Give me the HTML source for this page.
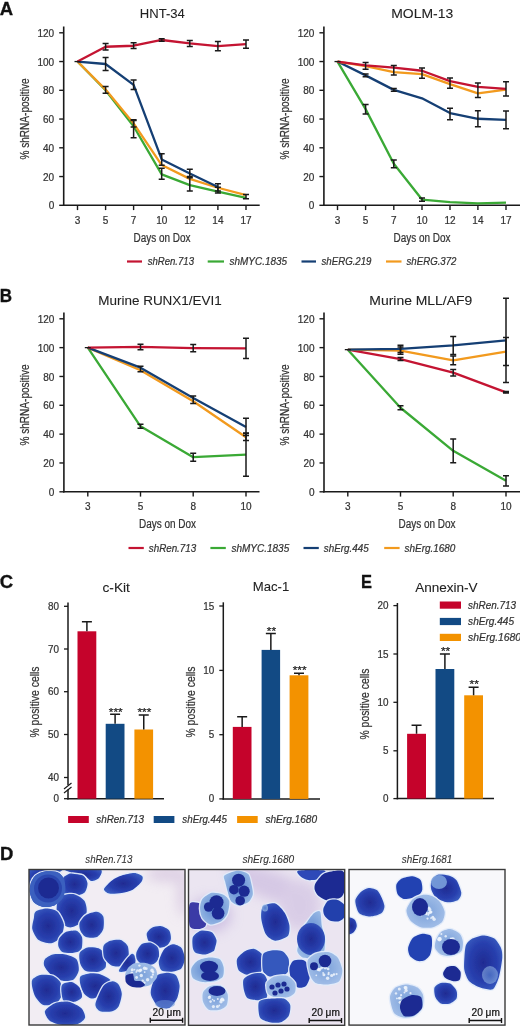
<!DOCTYPE html>
<html><head><meta charset="utf-8"><style>html,body{margin:0;padding:0;background:#fff;width:520px;height:1027px;overflow:hidden}svg{display:block;filter:blur(0.35px)}</style></head>
<body><svg width="520" height="1027" viewBox="0 0 520 1027" font-family="Liberation Sans, sans-serif">
<rect width="520" height="1027" fill="#fff"/>
<text x="-0.3" y="15.4" font-size="18.5" text-anchor="start" fill="#111" font-weight="bold" font-style="normal" stroke="#111" stroke-width="0.3" >A</text>
<line x1="63.7" y1="26.5" x2="63.7" y2="206.0" stroke="#1a1a1a" stroke-width="1.6"/>
<line x1="62.900000000000006" y1="205.3" x2="259.7" y2="205.3" stroke="#1a1a1a" stroke-width="1.6"/>
<line x1="59.2" y1="205.3" x2="63.7" y2="205.3" stroke="#1a1a1a" stroke-width="1.4"/>
<text x="54.2" y="209.4" font-size="10" text-anchor="end" fill="#333333" font-weight="normal" font-style="normal" stroke="#333333" stroke-width="0.22" >0</text>
<line x1="59.2" y1="176.55" x2="63.7" y2="176.55" stroke="#1a1a1a" stroke-width="1.4"/>
<text x="54.2" y="180.65" font-size="10" text-anchor="end" fill="#333333" font-weight="normal" font-style="normal" stroke="#333333" stroke-width="0.22" >20</text>
<line x1="59.2" y1="147.8" x2="63.7" y2="147.8" stroke="#1a1a1a" stroke-width="1.4"/>
<text x="54.2" y="151.9" font-size="10" text-anchor="end" fill="#333333" font-weight="normal" font-style="normal" stroke="#333333" stroke-width="0.22" >40</text>
<line x1="59.2" y1="119.05000000000001" x2="63.7" y2="119.05000000000001" stroke="#1a1a1a" stroke-width="1.4"/>
<text x="54.2" y="123.15" font-size="10" text-anchor="end" fill="#333333" font-weight="normal" font-style="normal" stroke="#333333" stroke-width="0.22" >60</text>
<line x1="59.2" y1="90.30000000000001" x2="63.7" y2="90.30000000000001" stroke="#1a1a1a" stroke-width="1.4"/>
<text x="54.2" y="94.4" font-size="10" text-anchor="end" fill="#333333" font-weight="normal" font-style="normal" stroke="#333333" stroke-width="0.22" >80</text>
<line x1="59.2" y1="61.55000000000001" x2="63.7" y2="61.55000000000001" stroke="#1a1a1a" stroke-width="1.4"/>
<text x="54.2" y="65.65" font-size="10" text-anchor="end" fill="#333333" font-weight="normal" font-style="normal" stroke="#333333" stroke-width="0.22" >100</text>
<line x1="59.2" y1="32.80000000000001" x2="63.7" y2="32.80000000000001" stroke="#1a1a1a" stroke-width="1.4"/>
<text x="54.2" y="36.90000000000001" font-size="10" text-anchor="end" fill="#333333" font-weight="normal" font-style="normal" stroke="#333333" stroke-width="0.22" >120</text>
<line x1="77.5" y1="205.3" x2="77.5" y2="210.10000000000002" stroke="#1a1a1a" stroke-width="1.4"/>
<text x="77.5" y="223.8" font-size="10" text-anchor="middle" fill="#333333" font-weight="normal" font-style="normal" stroke="#333333" stroke-width="0.22" >3</text>
<line x1="105.6" y1="205.3" x2="105.6" y2="210.10000000000002" stroke="#1a1a1a" stroke-width="1.4"/>
<text x="105.6" y="223.8" font-size="10" text-anchor="middle" fill="#333333" font-weight="normal" font-style="normal" stroke="#333333" stroke-width="0.22" >5</text>
<line x1="133.6" y1="205.3" x2="133.6" y2="210.10000000000002" stroke="#1a1a1a" stroke-width="1.4"/>
<text x="133.6" y="223.8" font-size="10" text-anchor="middle" fill="#333333" font-weight="normal" font-style="normal" stroke="#333333" stroke-width="0.22" >7</text>
<line x1="161.7" y1="205.3" x2="161.7" y2="210.10000000000002" stroke="#1a1a1a" stroke-width="1.4"/>
<text x="161.7" y="223.8" font-size="10" text-anchor="middle" fill="#333333" font-weight="normal" font-style="normal" stroke="#333333" stroke-width="0.22" >10</text>
<line x1="189.8" y1="205.3" x2="189.8" y2="210.10000000000002" stroke="#1a1a1a" stroke-width="1.4"/>
<text x="189.8" y="223.8" font-size="10" text-anchor="middle" fill="#333333" font-weight="normal" font-style="normal" stroke="#333333" stroke-width="0.22" >12</text>
<line x1="217.9" y1="205.3" x2="217.9" y2="210.10000000000002" stroke="#1a1a1a" stroke-width="1.4"/>
<text x="217.9" y="223.8" font-size="10" text-anchor="middle" fill="#333333" font-weight="normal" font-style="normal" stroke="#333333" stroke-width="0.22" >14</text>
<line x1="246" y1="205.3" x2="246" y2="210.10000000000002" stroke="#1a1a1a" stroke-width="1.4"/>
<text x="246" y="223.8" font-size="10" text-anchor="middle" fill="#333333" font-weight="normal" font-style="normal" stroke="#333333" stroke-width="0.22" >17</text>
<polyline points="77.5,61.55 105.6,90.30 133.6,126.24 161.7,174.39 189.8,185.18 217.9,191.64 246,197.83" fill="none" stroke="#3aa935" stroke-width="2.3" stroke-linejoin="round"/>
<polyline points="77.5,61.55 105.6,89.58 133.6,123.36 161.7,165.05 189.8,178.85 217.9,187.76 246,195.09" fill="none" stroke="#f29a1e" stroke-width="2.3" stroke-linejoin="round"/>
<polyline points="77.5,61.55 105.6,63.99 133.6,84.84 161.7,159.44 189.8,173.53 217.9,187.04" fill="none" stroke="#153f74" stroke-width="2.3" stroke-linejoin="round"/>
<polyline points="77.5,61.55 105.6,46.74 133.6,45.74 161.7,39.99 189.8,43.44 217.9,46.17 246,44.16" fill="none" stroke="#c41432" stroke-width="2.3" stroke-linejoin="round"/>
<path d="M74.5,61.55h6" stroke="#1a1a1a" stroke-width="1.3"/>
<path d="M105.6,43.44V50.05M102.6,43.44h6M102.6,50.05h6" stroke="#1a1a1a" stroke-width="1.5" fill="none"/>
<path d="M133.6,42.86V48.61M130.6,42.86h6M130.6,48.61h6" stroke="#1a1a1a" stroke-width="1.5" fill="none"/>
<path d="M161.7,38.69V41.28M158.7,38.69h6M158.7,41.28h6" stroke="#1a1a1a" stroke-width="1.5" fill="none"/>
<path d="M189.8,40.42V46.46M186.8,40.42h6M186.8,46.46h6" stroke="#1a1a1a" stroke-width="1.5" fill="none"/>
<path d="M217.9,41.57V50.77M214.9,41.57h6M214.9,50.77h6" stroke="#1a1a1a" stroke-width="1.5" fill="none"/>
<path d="M246,39.99V48.33M243,39.99h6M243,48.33h6" stroke="#1a1a1a" stroke-width="1.5" fill="none"/>
<path d="M105.6,57.38V70.61M102.6,57.38h6M102.6,70.61h6" stroke="#1a1a1a" stroke-width="1.5" fill="none"/>
<path d="M133.6,80.09V89.58M130.6,80.09h6M130.6,89.58h6" stroke="#1a1a1a" stroke-width="1.5" fill="none"/>
<path d="M105.6,86.56V93.18M102.6,86.56h6M102.6,93.18h6" stroke="#1a1a1a" stroke-width="1.5" fill="none"/>
<path d="M133.6,119.63V127.10M130.6,119.63h6M130.6,127.10h6" stroke="#1a1a1a" stroke-width="1.5" fill="none"/>
<path d="M133.6,120.49V137.74M130.6,120.49h6M130.6,137.74h6" stroke="#1a1a1a" stroke-width="1.5" fill="none"/>
<path d="M161.7,153.69V165.19M158.7,153.69h6M158.7,165.19h6" stroke="#1a1a1a" stroke-width="1.5" fill="none"/>
<path d="M161.7,168.21V179.14M158.7,168.21h6M158.7,179.14h6" stroke="#1a1a1a" stroke-width="1.5" fill="none"/>
<path d="M189.8,169.22V177.84M186.8,169.22h6M186.8,177.84h6" stroke="#1a1a1a" stroke-width="1.5" fill="none"/>
<path d="M189.8,176.55V190.93M186.8,176.55h6M186.8,190.93h6" stroke="#1a1a1a" stroke-width="1.5" fill="none"/>
<path d="M217.9,183.74V190.93M214.9,183.74h6M214.9,190.93h6" stroke="#1a1a1a" stroke-width="1.5" fill="none"/>
<path d="M217.9,187.33V193.08M214.9,187.33h6M214.9,193.08h6" stroke="#1a1a1a" stroke-width="1.5" fill="none"/>
<path d="M246,194.52V198.83M243,194.52h6M243,198.83h6" stroke="#1a1a1a" stroke-width="1.5" fill="none"/>
<text x="162.3" y="18.2" font-size="13" text-anchor="middle" fill="#222" font-weight="normal" font-style="normal" textLength="45" lengthAdjust="spacingAndGlyphs" stroke="#222" stroke-width="0.08" >HNT-34</text>
<text transform="translate(29,119) rotate(-90)" x="0" y="0" font-size="13" text-anchor="middle" fill="#333333" textLength="81" lengthAdjust="spacingAndGlyphs" stroke="#333" stroke-width="0.22">% shRNA-positive</text>
<text x="162" y="242" font-size="12" text-anchor="middle" fill="#333333" font-weight="normal" font-style="normal" textLength="57" lengthAdjust="spacingAndGlyphs" stroke="#333333" stroke-width="0.22" >Days on Dox</text>
<line x1="323.9" y1="26.5" x2="323.9" y2="206.0" stroke="#1a1a1a" stroke-width="1.6"/>
<line x1="323.09999999999997" y1="205.3" x2="520" y2="205.3" stroke="#1a1a1a" stroke-width="1.6"/>
<line x1="319.4" y1="205.3" x2="323.9" y2="205.3" stroke="#1a1a1a" stroke-width="1.4"/>
<text x="314.4" y="209.4" font-size="10" text-anchor="end" fill="#333333" font-weight="normal" font-style="normal" stroke="#333333" stroke-width="0.22" >0</text>
<line x1="319.4" y1="176.55" x2="323.9" y2="176.55" stroke="#1a1a1a" stroke-width="1.4"/>
<text x="314.4" y="180.65" font-size="10" text-anchor="end" fill="#333333" font-weight="normal" font-style="normal" stroke="#333333" stroke-width="0.22" >20</text>
<line x1="319.4" y1="147.8" x2="323.9" y2="147.8" stroke="#1a1a1a" stroke-width="1.4"/>
<text x="314.4" y="151.9" font-size="10" text-anchor="end" fill="#333333" font-weight="normal" font-style="normal" stroke="#333333" stroke-width="0.22" >40</text>
<line x1="319.4" y1="119.05000000000001" x2="323.9" y2="119.05000000000001" stroke="#1a1a1a" stroke-width="1.4"/>
<text x="314.4" y="123.15" font-size="10" text-anchor="end" fill="#333333" font-weight="normal" font-style="normal" stroke="#333333" stroke-width="0.22" >60</text>
<line x1="319.4" y1="90.30000000000001" x2="323.9" y2="90.30000000000001" stroke="#1a1a1a" stroke-width="1.4"/>
<text x="314.4" y="94.4" font-size="10" text-anchor="end" fill="#333333" font-weight="normal" font-style="normal" stroke="#333333" stroke-width="0.22" >80</text>
<line x1="319.4" y1="61.55000000000001" x2="323.9" y2="61.55000000000001" stroke="#1a1a1a" stroke-width="1.4"/>
<text x="314.4" y="65.65" font-size="10" text-anchor="end" fill="#333333" font-weight="normal" font-style="normal" stroke="#333333" stroke-width="0.22" >100</text>
<line x1="319.4" y1="32.80000000000001" x2="323.9" y2="32.80000000000001" stroke="#1a1a1a" stroke-width="1.4"/>
<text x="314.4" y="36.90000000000001" font-size="10" text-anchor="end" fill="#333333" font-weight="normal" font-style="normal" stroke="#333333" stroke-width="0.22" >120</text>
<line x1="337.5" y1="205.3" x2="337.5" y2="210.10000000000002" stroke="#1a1a1a" stroke-width="1.4"/>
<text x="337.5" y="223.8" font-size="10" text-anchor="middle" fill="#333333" font-weight="normal" font-style="normal" stroke="#333333" stroke-width="0.22" >3</text>
<line x1="365.6" y1="205.3" x2="365.6" y2="210.10000000000002" stroke="#1a1a1a" stroke-width="1.4"/>
<text x="365.6" y="223.8" font-size="10" text-anchor="middle" fill="#333333" font-weight="normal" font-style="normal" stroke="#333333" stroke-width="0.22" >5</text>
<line x1="393.8" y1="205.3" x2="393.8" y2="210.10000000000002" stroke="#1a1a1a" stroke-width="1.4"/>
<text x="393.8" y="223.8" font-size="10" text-anchor="middle" fill="#333333" font-weight="normal" font-style="normal" stroke="#333333" stroke-width="0.22" >7</text>
<line x1="422" y1="205.3" x2="422" y2="210.10000000000002" stroke="#1a1a1a" stroke-width="1.4"/>
<text x="422" y="223.8" font-size="10" text-anchor="middle" fill="#333333" font-weight="normal" font-style="normal" stroke="#333333" stroke-width="0.22" >10</text>
<line x1="450" y1="205.3" x2="450" y2="210.10000000000002" stroke="#1a1a1a" stroke-width="1.4"/>
<text x="450" y="223.8" font-size="10" text-anchor="middle" fill="#333333" font-weight="normal" font-style="normal" stroke="#333333" stroke-width="0.22" >12</text>
<line x1="477.9" y1="205.3" x2="477.9" y2="210.10000000000002" stroke="#1a1a1a" stroke-width="1.4"/>
<text x="477.9" y="223.8" font-size="10" text-anchor="middle" fill="#333333" font-weight="normal" font-style="normal" stroke="#333333" stroke-width="0.22" >14</text>
<line x1="506" y1="205.3" x2="506" y2="210.10000000000002" stroke="#1a1a1a" stroke-width="1.4"/>
<text x="506" y="223.8" font-size="10" text-anchor="middle" fill="#333333" font-weight="normal" font-style="normal" stroke="#333333" stroke-width="0.22" >17</text>
<polyline points="337.5,61.55 365.6,109.13 393.8,163.76 422,199.55 450,202.14 477.9,203.29 506,202.57" fill="none" stroke="#3aa935" stroke-width="2.3" stroke-linejoin="round"/>
<polyline points="337.5,61.55 365.6,75.35 393.8,89.87 422,98.35 450,113.01 477.9,118.76 506,119.91" fill="none" stroke="#153f74" stroke-width="2.3" stroke-linejoin="round"/>
<polyline points="337.5,61.55 365.6,66.15 393.8,72.19 422,74.06 450,84.12 477.9,93.32 506,89.58" fill="none" stroke="#f29a1e" stroke-width="2.3" stroke-linejoin="round"/>
<polyline points="337.5,61.55 365.6,65.43 393.8,67.59 422,70.75 450,81.10 477.9,86.85 506,88.86" fill="none" stroke="#c41432" stroke-width="2.3" stroke-linejoin="round"/>
<path d="M334.5,61.55h6" stroke="#1a1a1a" stroke-width="1.3"/>
<path d="M365.6,62.41V69.31M362.6,62.41h6M362.6,69.31h6" stroke="#1a1a1a" stroke-width="1.5" fill="none"/>
<path d="M393.8,65.43V74.92M390.8,65.43h6M390.8,74.92h6" stroke="#1a1a1a" stroke-width="1.5" fill="none"/>
<path d="M422,67.88V78.23M419,67.88h6M419,78.23h6" stroke="#1a1a1a" stroke-width="1.5" fill="none"/>
<path d="M450,78.08V88.14M447,78.08h6M447,88.14h6" stroke="#1a1a1a" stroke-width="1.5" fill="none"/>
<path d="M477.9,83.11V97.49M474.9,83.11h6M474.9,97.49h6" stroke="#1a1a1a" stroke-width="1.5" fill="none"/>
<path d="M506,81.68V96.05M503,81.68h6M503,96.05h6" stroke="#1a1a1a" stroke-width="1.5" fill="none"/>
<path d="M365.6,73.91V76.79M362.6,73.91h6M362.6,76.79h6" stroke="#1a1a1a" stroke-width="1.5" fill="none"/>
<path d="M393.8,88.43V91.31M390.8,88.43h6M390.8,91.31h6" stroke="#1a1a1a" stroke-width="1.5" fill="none"/>
<path d="M450,108.27V119.77M447,108.27h6M447,119.77h6" stroke="#1a1a1a" stroke-width="1.5" fill="none"/>
<path d="M477.9,110.71V126.81M474.9,110.71h6M474.9,126.81h6" stroke="#1a1a1a" stroke-width="1.5" fill="none"/>
<path d="M506,111.00V128.83M503,111.00h6M503,128.83h6" stroke="#1a1a1a" stroke-width="1.5" fill="none"/>
<path d="M365.6,104.39V113.88M362.6,104.39h6M362.6,113.88h6" stroke="#1a1a1a" stroke-width="1.5" fill="none"/>
<path d="M393.8,159.88V167.64M390.8,159.88h6M390.8,167.64h6" stroke="#1a1a1a" stroke-width="1.5" fill="none"/>
<path d="M422,197.97V201.13M419,197.97h6M419,201.13h6" stroke="#1a1a1a" stroke-width="1.5" fill="none"/>
<text x="422.2" y="18.4" font-size="13" text-anchor="middle" fill="#222" font-weight="normal" font-style="normal" textLength="62" lengthAdjust="spacingAndGlyphs" stroke="#222" stroke-width="0.08" >MOLM-13</text>
<text transform="translate(289,119) rotate(-90)" x="0" y="0" font-size="13" text-anchor="middle" fill="#333333" textLength="81" lengthAdjust="spacingAndGlyphs" stroke="#333" stroke-width="0.22">% shRNA-positive</text>
<text x="422" y="242" font-size="12" text-anchor="middle" fill="#333333" font-weight="normal" font-style="normal" textLength="57" lengthAdjust="spacingAndGlyphs" stroke="#333333" stroke-width="0.22" >Days on Dox</text>
<line x1="127" y1="261.5" x2="142" y2="261.5" stroke="#c41432" stroke-width="2.2"/>
<text x="147.7" y="265.3" font-size="10.5" text-anchor="start" fill="#333" font-weight="normal" font-style="italic" textLength="46.30000000000001" lengthAdjust="spacingAndGlyphs" stroke="#333" stroke-width="0.22" >shRen.713</text>
<line x1="207.7" y1="261.5" x2="224" y2="261.5" stroke="#3aa935" stroke-width="2.2"/>
<text x="229.6" y="265.3" font-size="10.5" text-anchor="start" fill="#333" font-weight="normal" font-style="italic" textLength="57.400000000000006" lengthAdjust="spacingAndGlyphs" stroke="#333" stroke-width="0.22" >shMYC.1835</text>
<line x1="301.5" y1="261.5" x2="316" y2="261.5" stroke="#153f74" stroke-width="2.2"/>
<text x="321.5" y="265.3" font-size="10.5" text-anchor="start" fill="#333" font-weight="normal" font-style="italic" textLength="50.0" lengthAdjust="spacingAndGlyphs" stroke="#333" stroke-width="0.22" >shERG.219</text>
<line x1="386" y1="261.5" x2="401.5" y2="261.5" stroke="#f29a1e" stroke-width="2.2"/>
<text x="406.5" y="265.3" font-size="10.5" text-anchor="start" fill="#333" font-weight="normal" font-style="italic" textLength="50.0" lengthAdjust="spacingAndGlyphs" stroke="#333" stroke-width="0.22" >shERG.372</text>
<text x="-0.3" y="301.5" font-size="18.5" text-anchor="start" fill="#111" font-weight="bold" font-style="normal" textLength="12.3" lengthAdjust="spacingAndGlyphs" stroke="#111" stroke-width="0.3" >B</text>
<line x1="63.9" y1="312.5" x2="63.9" y2="492.5" stroke="#1a1a1a" stroke-width="1.6"/>
<line x1="63.1" y1="491.8" x2="259.5" y2="491.8" stroke="#1a1a1a" stroke-width="1.6"/>
<line x1="59.4" y1="491.8" x2="63.9" y2="491.8" stroke="#1a1a1a" stroke-width="1.4"/>
<text x="54.4" y="495.90000000000003" font-size="10" text-anchor="end" fill="#333333" font-weight="normal" font-style="normal" stroke="#333333" stroke-width="0.22" >0</text>
<line x1="59.4" y1="462.966" x2="63.9" y2="462.966" stroke="#1a1a1a" stroke-width="1.4"/>
<text x="54.4" y="467.06600000000003" font-size="10" text-anchor="end" fill="#333333" font-weight="normal" font-style="normal" stroke="#333333" stroke-width="0.22" >20</text>
<line x1="59.4" y1="434.132" x2="63.9" y2="434.132" stroke="#1a1a1a" stroke-width="1.4"/>
<text x="54.4" y="438.232" font-size="10" text-anchor="end" fill="#333333" font-weight="normal" font-style="normal" stroke="#333333" stroke-width="0.22" >40</text>
<line x1="59.4" y1="405.298" x2="63.9" y2="405.298" stroke="#1a1a1a" stroke-width="1.4"/>
<text x="54.4" y="409.398" font-size="10" text-anchor="end" fill="#333333" font-weight="normal" font-style="normal" stroke="#333333" stroke-width="0.22" >60</text>
<line x1="59.4" y1="376.464" x2="63.9" y2="376.464" stroke="#1a1a1a" stroke-width="1.4"/>
<text x="54.4" y="380.564" font-size="10" text-anchor="end" fill="#333333" font-weight="normal" font-style="normal" stroke="#333333" stroke-width="0.22" >80</text>
<line x1="59.4" y1="347.63" x2="63.9" y2="347.63" stroke="#1a1a1a" stroke-width="1.4"/>
<text x="54.4" y="351.73" font-size="10" text-anchor="end" fill="#333333" font-weight="normal" font-style="normal" stroke="#333333" stroke-width="0.22" >100</text>
<line x1="59.4" y1="318.79600000000005" x2="63.9" y2="318.79600000000005" stroke="#1a1a1a" stroke-width="1.4"/>
<text x="54.4" y="322.8960000000001" font-size="10" text-anchor="end" fill="#333333" font-weight="normal" font-style="normal" stroke="#333333" stroke-width="0.22" >120</text>
<line x1="87.8" y1="491.8" x2="87.8" y2="496.6" stroke="#1a1a1a" stroke-width="1.4"/>
<text x="87.8" y="510.3" font-size="10" text-anchor="middle" fill="#333333" font-weight="normal" font-style="normal" stroke="#333333" stroke-width="0.22" >3</text>
<line x1="140.5" y1="491.8" x2="140.5" y2="496.6" stroke="#1a1a1a" stroke-width="1.4"/>
<text x="140.5" y="510.3" font-size="10" text-anchor="middle" fill="#333333" font-weight="normal" font-style="normal" stroke="#333333" stroke-width="0.22" >5</text>
<line x1="193.2" y1="491.8" x2="193.2" y2="496.6" stroke="#1a1a1a" stroke-width="1.4"/>
<text x="193.2" y="510.3" font-size="10" text-anchor="middle" fill="#333333" font-weight="normal" font-style="normal" stroke="#333333" stroke-width="0.22" >8</text>
<line x1="246" y1="491.8" x2="246" y2="496.6" stroke="#1a1a1a" stroke-width="1.4"/>
<text x="246" y="510.3" font-size="10" text-anchor="middle" fill="#333333" font-weight="normal" font-style="normal" stroke="#333333" stroke-width="0.22" >10</text>
<polyline points="87.8,347.63 140.5,426.35 193.2,457.20 246,454.60" fill="none" stroke="#3aa935" stroke-width="2.3" stroke-linejoin="round"/>
<polyline points="87.8,347.63 140.5,370.26 193.2,401.26 246,437.30" fill="none" stroke="#f29a1e" stroke-width="2.3" stroke-linejoin="round"/>
<polyline points="87.8,347.63 140.5,367.67 193.2,398.09 246,426.92" fill="none" stroke="#153f74" stroke-width="2.3" stroke-linejoin="round"/>
<polyline points="87.8,347.63 140.5,346.91 193.2,348.06 246,348.35" fill="none" stroke="#c41432" stroke-width="2.3" stroke-linejoin="round"/>
<path d="M84.8,347.63h6" stroke="#1a1a1a" stroke-width="1.3"/>
<path d="M140.5,344.17V349.65M137.5,344.17h6M137.5,349.65h6" stroke="#1a1a1a" stroke-width="1.5" fill="none"/>
<path d="M193.2,344.46V351.67M190.2,344.46h6M190.2,351.67h6" stroke="#1a1a1a" stroke-width="1.5" fill="none"/>
<path d="M246,338.26V358.44M243,338.26h6M243,358.44h6" stroke="#1a1a1a" stroke-width="1.5" fill="none"/>
<path d="M140.5,366.23V371.71M137.5,366.23h6M137.5,371.71h6" stroke="#1a1a1a" stroke-width="1.5" fill="none"/>
<path d="M193.2,395.93V403.42M190.2,395.93h6M190.2,403.42h6" stroke="#1a1a1a" stroke-width="1.5" fill="none"/>
<path d="M246,418.27V435.57M243,418.27h6M243,435.57h6" stroke="#1a1a1a" stroke-width="1.5" fill="none"/>
<path d="M246,433.41V440.62M243,433.41h6M243,440.62h6" stroke="#1a1a1a" stroke-width="1.5" fill="none"/>
<path d="M140.5,424.33V428.37M137.5,424.33h6M137.5,428.37h6" stroke="#1a1a1a" stroke-width="1.5" fill="none"/>
<path d="M193.2,453.16V461.24M190.2,453.16h6M190.2,461.24h6" stroke="#1a1a1a" stroke-width="1.5" fill="none"/>
<path d="M246,432.98V476.23M243,432.98h6M243,476.23h6" stroke="#1a1a1a" stroke-width="1.5" fill="none"/>
<text x="160" y="305.2" font-size="13" text-anchor="middle" fill="#222" font-weight="normal" font-style="normal" textLength="123.5" lengthAdjust="spacingAndGlyphs" stroke="#222" stroke-width="0.08" >Murine RUNX1/EVI1</text>
<text transform="translate(29,405) rotate(-90)" x="0" y="0" font-size="13" text-anchor="middle" fill="#333333" textLength="81" lengthAdjust="spacingAndGlyphs" stroke="#333" stroke-width="0.22">% shRNA-positive</text>
<text x="167.5" y="528.2" font-size="12" text-anchor="middle" fill="#333333" font-weight="normal" font-style="normal" textLength="57" lengthAdjust="spacingAndGlyphs" stroke="#333333" stroke-width="0.22" >Days on Dox</text>
<line x1="324" y1="312.5" x2="324" y2="492.5" stroke="#1a1a1a" stroke-width="1.6"/>
<line x1="323.2" y1="491.8" x2="520" y2="491.8" stroke="#1a1a1a" stroke-width="1.6"/>
<line x1="319.5" y1="491.8" x2="324" y2="491.8" stroke="#1a1a1a" stroke-width="1.4"/>
<text x="314.5" y="495.90000000000003" font-size="10" text-anchor="end" fill="#333333" font-weight="normal" font-style="normal" stroke="#333333" stroke-width="0.22" >0</text>
<line x1="319.5" y1="462.966" x2="324" y2="462.966" stroke="#1a1a1a" stroke-width="1.4"/>
<text x="314.5" y="467.06600000000003" font-size="10" text-anchor="end" fill="#333333" font-weight="normal" font-style="normal" stroke="#333333" stroke-width="0.22" >20</text>
<line x1="319.5" y1="434.132" x2="324" y2="434.132" stroke="#1a1a1a" stroke-width="1.4"/>
<text x="314.5" y="438.232" font-size="10" text-anchor="end" fill="#333333" font-weight="normal" font-style="normal" stroke="#333333" stroke-width="0.22" >40</text>
<line x1="319.5" y1="405.298" x2="324" y2="405.298" stroke="#1a1a1a" stroke-width="1.4"/>
<text x="314.5" y="409.398" font-size="10" text-anchor="end" fill="#333333" font-weight="normal" font-style="normal" stroke="#333333" stroke-width="0.22" >60</text>
<line x1="319.5" y1="376.464" x2="324" y2="376.464" stroke="#1a1a1a" stroke-width="1.4"/>
<text x="314.5" y="380.564" font-size="10" text-anchor="end" fill="#333333" font-weight="normal" font-style="normal" stroke="#333333" stroke-width="0.22" >80</text>
<line x1="319.5" y1="347.63" x2="324" y2="347.63" stroke="#1a1a1a" stroke-width="1.4"/>
<text x="314.5" y="351.73" font-size="10" text-anchor="end" fill="#333333" font-weight="normal" font-style="normal" stroke="#333333" stroke-width="0.22" >100</text>
<line x1="319.5" y1="318.79600000000005" x2="324" y2="318.79600000000005" stroke="#1a1a1a" stroke-width="1.4"/>
<text x="314.5" y="322.8960000000001" font-size="10" text-anchor="end" fill="#333333" font-weight="normal" font-style="normal" stroke="#333333" stroke-width="0.22" >120</text>
<line x1="347.8" y1="491.8" x2="347.8" y2="496.6" stroke="#1a1a1a" stroke-width="1.4"/>
<text x="347.8" y="510.3" font-size="10" text-anchor="middle" fill="#333333" font-weight="normal" font-style="normal" stroke="#333333" stroke-width="0.22" >3</text>
<line x1="400.5" y1="491.8" x2="400.5" y2="496.6" stroke="#1a1a1a" stroke-width="1.4"/>
<text x="400.5" y="510.3" font-size="10" text-anchor="middle" fill="#333333" font-weight="normal" font-style="normal" stroke="#333333" stroke-width="0.22" >5</text>
<line x1="453.2" y1="491.8" x2="453.2" y2="496.6" stroke="#1a1a1a" stroke-width="1.4"/>
<text x="453.2" y="510.3" font-size="10" text-anchor="middle" fill="#333333" font-weight="normal" font-style="normal" stroke="#333333" stroke-width="0.22" >8</text>
<line x1="506" y1="491.8" x2="506" y2="496.6" stroke="#1a1a1a" stroke-width="1.4"/>
<text x="506" y="510.3" font-size="10" text-anchor="middle" fill="#333333" font-weight="normal" font-style="normal" stroke="#333333" stroke-width="0.22" >10</text>
<polyline points="347.8,349.65 400.5,407.75 453.2,450.86 506,480.84" fill="none" stroke="#3aa935" stroke-width="2.3" stroke-linejoin="round"/>
<polyline points="347.8,349.65 400.5,359.02 453.2,372.57 506,392.32" fill="none" stroke="#c41432" stroke-width="2.3" stroke-linejoin="round"/>
<polyline points="347.8,349.65 400.5,350.66 453.2,360.32 506,351.52" fill="none" stroke="#f29a1e" stroke-width="2.3" stroke-linejoin="round"/>
<polyline points="347.8,349.65 400.5,348.93 453.2,345.47 506,340.42" fill="none" stroke="#153f74" stroke-width="2.3" stroke-linejoin="round"/>
<path d="M344.8,349.65h6" stroke="#1a1a1a" stroke-width="1.3"/>
<path d="M400.5,345.32V352.53M397.5,345.32h6M397.5,352.53h6" stroke="#1a1a1a" stroke-width="1.5" fill="none"/>
<path d="M400.5,347.05V354.26M397.5,347.05h6M397.5,354.26h6" stroke="#1a1a1a" stroke-width="1.5" fill="none"/>
<path d="M400.5,357.58V360.46M397.5,357.58h6M397.5,360.46h6" stroke="#1a1a1a" stroke-width="1.5" fill="none"/>
<path d="M453.2,336.38V354.55M450.2,336.38h6M450.2,354.55h6" stroke="#1a1a1a" stroke-width="1.5" fill="none"/>
<path d="M453.2,355.99V364.64M450.2,355.99h6M450.2,364.64h6" stroke="#1a1a1a" stroke-width="1.5" fill="none"/>
<path d="M453.2,369.47V375.96M450.2,369.47h6M450.2,375.96h6" stroke="#1a1a1a" stroke-width="1.5" fill="none"/>
<path d="M506,298.32V382.52M503,298.32h6M503,382.52h6" stroke="#1a1a1a" stroke-width="1.5" fill="none"/>
<path d="M506,337.54V365.51M503,337.54h6M503,365.51h6" stroke="#1a1a1a" stroke-width="1.5" fill="none"/>
<path d="M506,391.60V393.04M503,391.60h6M503,393.04h6" stroke="#1a1a1a" stroke-width="1.5" fill="none"/>
<path d="M400.5,405.73V409.77M397.5,405.73h6M397.5,409.77h6" stroke="#1a1a1a" stroke-width="1.5" fill="none"/>
<path d="M453.2,438.89V462.82M450.2,438.89h6M450.2,462.82h6" stroke="#1a1a1a" stroke-width="1.5" fill="none"/>
<path d="M506,475.80V485.89M503,475.80h6M503,485.89h6" stroke="#1a1a1a" stroke-width="1.5" fill="none"/>
<text x="420.8" y="305" font-size="13" text-anchor="middle" fill="#222" font-weight="normal" font-style="normal" textLength="103" lengthAdjust="spacingAndGlyphs" stroke="#222" stroke-width="0.08" >Murine MLL/AF9</text>
<text transform="translate(289,405) rotate(-90)" x="0" y="0" font-size="13" text-anchor="middle" fill="#333333" textLength="81" lengthAdjust="spacingAndGlyphs" stroke="#333" stroke-width="0.22">% shRNA-positive</text>
<text x="427" y="528.2" font-size="12" text-anchor="middle" fill="#333333" font-weight="normal" font-style="normal" textLength="57" lengthAdjust="spacingAndGlyphs" stroke="#333333" stroke-width="0.22" >Days on Dox</text>
<line x1="128.5" y1="548" x2="143.8" y2="548" stroke="#c41432" stroke-width="2.2"/>
<text x="148.8" y="551.8" font-size="10.5" text-anchor="start" fill="#333" font-weight="normal" font-style="italic" textLength="47.39999999999998" lengthAdjust="spacingAndGlyphs" stroke="#333" stroke-width="0.22" >shRen.713</text>
<line x1="210.4" y1="548" x2="225.8" y2="548" stroke="#3aa935" stroke-width="2.2"/>
<text x="231.5" y="551.8" font-size="10.5" text-anchor="start" fill="#333" font-weight="normal" font-style="italic" textLength="57.69999999999999" lengthAdjust="spacingAndGlyphs" stroke="#333" stroke-width="0.22" >shMYC.1835</text>
<line x1="303.5" y1="548" x2="318.8" y2="548" stroke="#153f74" stroke-width="2.2"/>
<text x="323.8" y="551.8" font-size="10.5" text-anchor="start" fill="#333" font-weight="normal" font-style="italic" textLength="45.0" lengthAdjust="spacingAndGlyphs" stroke="#333" stroke-width="0.22" >shErg.445</text>
<line x1="384.2" y1="548" x2="399.6" y2="548" stroke="#f29a1e" stroke-width="2.2"/>
<text x="404.6" y="551.8" font-size="10.5" text-anchor="start" fill="#333" font-weight="normal" font-style="italic" textLength="50.799999999999955" lengthAdjust="spacingAndGlyphs" stroke="#333" stroke-width="0.22" >shErg.1680</text>
<text x="-0.2" y="588.2" font-size="18.5" text-anchor="start" fill="#111" font-weight="bold" font-style="normal" stroke="#111" stroke-width="0.3" >C</text>
<text x="116.2" y="591.5" font-size="13" text-anchor="middle" fill="#222" font-weight="normal" font-style="normal" textLength="27.5" lengthAdjust="spacingAndGlyphs" stroke="#222" stroke-width="0.08" >c-Kit</text>
<line x1="68" y1="602.5" x2="68" y2="785" stroke="#1a1a1a" stroke-width="1.5"/>
<line x1="68" y1="789.5" x2="68" y2="799.4000000000001" stroke="#1a1a1a" stroke-width="1.5"/>
<path d="M64,789l7.5,-6M64,793l7.5,-6" stroke="#1a1a1a" stroke-width="1.2" fill="none"/>
<line x1="67.3" y1="798.7" x2="164" y2="798.7" stroke="#1a1a1a" stroke-width="1.5"/>
<line x1="64" y1="606.3" x2="68" y2="606.3" stroke="#1a1a1a" stroke-width="1.3"/>
<text x="59.0" y="609.8" font-size="10.6" text-anchor="end" fill="#333333" font-weight="normal" font-style="normal" textLength="11.0" lengthAdjust="spacingAndGlyphs" stroke="#333333" stroke-width="0.22" >80</text>
<line x1="64" y1="649" x2="68" y2="649" stroke="#1a1a1a" stroke-width="1.3"/>
<text x="59.0" y="652.5" font-size="10.6" text-anchor="end" fill="#333333" font-weight="normal" font-style="normal" textLength="11.0" lengthAdjust="spacingAndGlyphs" stroke="#333333" stroke-width="0.22" >70</text>
<line x1="64" y1="691.7" x2="68" y2="691.7" stroke="#1a1a1a" stroke-width="1.3"/>
<text x="59.0" y="695.2" font-size="10.6" text-anchor="end" fill="#333333" font-weight="normal" font-style="normal" textLength="11.0" lengthAdjust="spacingAndGlyphs" stroke="#333333" stroke-width="0.22" >60</text>
<line x1="64" y1="734.5" x2="68" y2="734.5" stroke="#1a1a1a" stroke-width="1.3"/>
<text x="59.0" y="738.0" font-size="10.6" text-anchor="end" fill="#333333" font-weight="normal" font-style="normal" textLength="11.0" lengthAdjust="spacingAndGlyphs" stroke="#333333" stroke-width="0.22" >50</text>
<line x1="64" y1="777.5" x2="68" y2="777.5" stroke="#1a1a1a" stroke-width="1.3"/>
<text x="59.0" y="781.0" font-size="10.6" text-anchor="end" fill="#333333" font-weight="normal" font-style="normal" textLength="11.0" lengthAdjust="spacingAndGlyphs" stroke="#333333" stroke-width="0.22" >40</text>
<line x1="64" y1="798.7" x2="68" y2="798.7" stroke="#1a1a1a" stroke-width="1.3"/>
<text x="59.0" y="802.2" font-size="10.6" text-anchor="end" fill="#333333" font-weight="normal" font-style="normal" textLength="5.5" lengthAdjust="spacingAndGlyphs" stroke="#333333" stroke-width="0.22" >0</text>
<text transform="translate(39,702) rotate(-90)" x="0" y="0" font-size="12.5" text-anchor="middle" fill="#333333" textLength="71" lengthAdjust="spacingAndGlyphs" stroke="#333" stroke-width="0.22">% positive cells</text>
<rect x="77.5" y="631.3" width="18.799999999999997" height="167.4000000000001" fill="#c5032b"/>
<path d="M86.9,631.3V621.8M81.9,621.8h10" stroke="#1a1a1a" stroke-width="1.5" fill="none"/>
<rect x="105.7" y="723.8" width="18.799999999999997" height="74.90000000000009" fill="#124a84"/>
<path d="M115.1,723.8V714.3M110.1,714.3h10" stroke="#1a1a1a" stroke-width="1.5" fill="none"/>
<text x="115.69999999999999" y="715.5" font-size="10" text-anchor="middle" fill="#222" font-weight="normal" font-style="normal" textLength="13.799999999999999" lengthAdjust="spacingAndGlyphs" stroke="#222" stroke-width="0.22" >***</text>
<rect x="134.4" y="729.5" width="18.69999999999999" height="69.20000000000005" fill="#f39200"/>
<path d="M143.75,729.5V715M138.75,715h10" stroke="#1a1a1a" stroke-width="1.5" fill="none"/>
<text x="144.35" y="715.5" font-size="10" text-anchor="middle" fill="#222" font-weight="normal" font-style="normal" textLength="13.799999999999999" lengthAdjust="spacingAndGlyphs" stroke="#222" stroke-width="0.22" >***</text>
<text x="271" y="591" font-size="13" text-anchor="middle" fill="#222" font-weight="normal" font-style="normal" textLength="36.5" lengthAdjust="spacingAndGlyphs" stroke="#222" stroke-width="0.08" >Mac-1</text>
<line x1="223.3" y1="602.3" x2="223.3" y2="799.6" stroke="#1a1a1a" stroke-width="1.5"/>
<line x1="222.60000000000002" y1="798.9" x2="320" y2="798.9" stroke="#1a1a1a" stroke-width="1.5"/>
<line x1="219.3" y1="606" x2="223.3" y2="606" stroke="#1a1a1a" stroke-width="1.3"/>
<text x="214.3" y="609.5" font-size="10.6" text-anchor="end" fill="#333333" font-weight="normal" font-style="normal" textLength="11.0" lengthAdjust="spacingAndGlyphs" stroke="#333333" stroke-width="0.22" >15</text>
<line x1="219.3" y1="670.4" x2="223.3" y2="670.4" stroke="#1a1a1a" stroke-width="1.3"/>
<text x="214.3" y="673.9" font-size="10.6" text-anchor="end" fill="#333333" font-weight="normal" font-style="normal" textLength="11.0" lengthAdjust="spacingAndGlyphs" stroke="#333333" stroke-width="0.22" >10</text>
<line x1="219.3" y1="734.7" x2="223.3" y2="734.7" stroke="#1a1a1a" stroke-width="1.3"/>
<text x="214.3" y="738.2" font-size="10.6" text-anchor="end" fill="#333333" font-weight="normal" font-style="normal" textLength="5.5" lengthAdjust="spacingAndGlyphs" stroke="#333333" stroke-width="0.22" >5</text>
<line x1="219.3" y1="798.9" x2="223.3" y2="798.9" stroke="#1a1a1a" stroke-width="1.3"/>
<text x="214.3" y="802.4" font-size="10.6" text-anchor="end" fill="#333333" font-weight="normal" font-style="normal" textLength="5.5" lengthAdjust="spacingAndGlyphs" stroke="#333333" stroke-width="0.22" >0</text>
<text transform="translate(194.5,702) rotate(-90)" x="0" y="0" font-size="12.5" text-anchor="middle" fill="#333333" textLength="71" lengthAdjust="spacingAndGlyphs" stroke="#333" stroke-width="0.22">% positive cells</text>
<rect x="232.8" y="726.9" width="18.69999999999999" height="72.0" fill="#c5032b"/>
<path d="M242.15,726.9V716.8M237.15,716.8h10" stroke="#1a1a1a" stroke-width="1.5" fill="none"/>
<rect x="261.6" y="649.9" width="18.5" height="149.0" fill="#124a84"/>
<path d="M270.85,649.9V633.5M265.85,633.5h10" stroke="#1a1a1a" stroke-width="1.5" fill="none"/>
<text x="271.45000000000005" y="634.5" font-size="10" text-anchor="middle" fill="#222" font-weight="normal" font-style="normal" textLength="9.2" lengthAdjust="spacingAndGlyphs" stroke="#222" stroke-width="0.22" >**</text>
<rect x="289.6" y="675.3" width="18.799999999999955" height="123.60000000000002" fill="#f39200"/>
<path d="M299.0,675.3V673.2M294.0,673.2h10" stroke="#1a1a1a" stroke-width="1.5" fill="none"/>
<text x="299.6" y="673.8" font-size="10" text-anchor="middle" fill="#222" font-weight="normal" font-style="normal" textLength="13.799999999999999" lengthAdjust="spacingAndGlyphs" stroke="#222" stroke-width="0.22" >***</text>
<rect x="68.1" y="816" width="20.700000000000003" height="7" fill="#c5032b"/>
<text x="96.3" y="822.8" font-size="10.5" text-anchor="start" fill="#333" font-weight="normal" font-style="italic" textLength="47.7" lengthAdjust="spacingAndGlyphs" stroke="#333" stroke-width="0.22" >shRen.713</text>
<rect x="153.7" y="816" width="20.700000000000017" height="7" fill="#124a84"/>
<text x="182.3" y="822.8" font-size="10.5" text-anchor="start" fill="#333" font-weight="normal" font-style="italic" textLength="44.599999999999994" lengthAdjust="spacingAndGlyphs" stroke="#333" stroke-width="0.22" >shErg.445</text>
<rect x="237.1" y="816" width="20.599999999999994" height="7" fill="#f39200"/>
<text x="265.4" y="822.8" font-size="10.5" text-anchor="start" fill="#333" font-weight="normal" font-style="italic" textLength="51.700000000000045" lengthAdjust="spacingAndGlyphs" stroke="#333" stroke-width="0.22" >shErg.1680</text>
<text x="361" y="588.1" font-size="18" text-anchor="start" fill="#111" font-weight="bold" font-style="normal" textLength="11" lengthAdjust="spacingAndGlyphs" stroke="#111" stroke-width="0.3" >E</text>
<text x="446.4" y="591.5" font-size="13" text-anchor="middle" fill="#222" font-weight="normal" font-style="normal" textLength="62.5" lengthAdjust="spacingAndGlyphs" stroke="#222" stroke-width="0.08" >Annexin-V</text>
<line x1="397.4" y1="603" x2="397.4" y2="799.3000000000001" stroke="#1a1a1a" stroke-width="1.5"/>
<line x1="396.7" y1="798.6" x2="494" y2="798.6" stroke="#1a1a1a" stroke-width="1.5"/>
<line x1="393.4" y1="605.6" x2="397.4" y2="605.6" stroke="#1a1a1a" stroke-width="1.3"/>
<text x="388.4" y="609.1" font-size="10.6" text-anchor="end" fill="#333333" font-weight="normal" font-style="normal" textLength="11.0" lengthAdjust="spacingAndGlyphs" stroke="#333333" stroke-width="0.22" >20</text>
<line x1="393.4" y1="654" x2="397.4" y2="654" stroke="#1a1a1a" stroke-width="1.3"/>
<text x="388.4" y="657.5" font-size="10.6" text-anchor="end" fill="#333333" font-weight="normal" font-style="normal" textLength="11.0" lengthAdjust="spacingAndGlyphs" stroke="#333333" stroke-width="0.22" >15</text>
<line x1="393.4" y1="702.3" x2="397.4" y2="702.3" stroke="#1a1a1a" stroke-width="1.3"/>
<text x="388.4" y="705.8" font-size="10.6" text-anchor="end" fill="#333333" font-weight="normal" font-style="normal" textLength="11.0" lengthAdjust="spacingAndGlyphs" stroke="#333333" stroke-width="0.22" >10</text>
<line x1="393.4" y1="750.8" x2="397.4" y2="750.8" stroke="#1a1a1a" stroke-width="1.3"/>
<text x="388.4" y="754.3" font-size="10.6" text-anchor="end" fill="#333333" font-weight="normal" font-style="normal" textLength="5.5" lengthAdjust="spacingAndGlyphs" stroke="#333333" stroke-width="0.22" >5</text>
<line x1="393.4" y1="798.6" x2="397.4" y2="798.6" stroke="#1a1a1a" stroke-width="1.3"/>
<text x="388.4" y="802.1" font-size="10.6" text-anchor="end" fill="#333333" font-weight="normal" font-style="normal" textLength="5.5" lengthAdjust="spacingAndGlyphs" stroke="#333333" stroke-width="0.22" >0</text>
<text transform="translate(368.5,704) rotate(-90)" x="0" y="0" font-size="12.5" text-anchor="middle" fill="#333333" textLength="71" lengthAdjust="spacingAndGlyphs" stroke="#333" stroke-width="0.22">% positive cells</text>
<rect x="407.1" y="733.8" width="18.899999999999977" height="64.80000000000007" fill="#c5032b"/>
<path d="M416.55,733.8V725.2M411.55,725.2h10" stroke="#1a1a1a" stroke-width="1.5" fill="none"/>
<rect x="435.5" y="669" width="18.80000000000001" height="129.60000000000002" fill="#124a84"/>
<path d="M444.9,669V654M439.9,654h10" stroke="#1a1a1a" stroke-width="1.5" fill="none"/>
<text x="445.5" y="655" font-size="10" text-anchor="middle" fill="#222" font-weight="normal" font-style="normal" textLength="9.2" lengthAdjust="spacingAndGlyphs" stroke="#222" stroke-width="0.22" >**</text>
<rect x="464.2" y="695.3" width="18.80000000000001" height="103.30000000000007" fill="#f39200"/>
<path d="M473.6,695.3V687.3M468.6,687.3h10" stroke="#1a1a1a" stroke-width="1.5" fill="none"/>
<text x="474.20000000000005" y="688" font-size="10" text-anchor="middle" fill="#222" font-weight="normal" font-style="normal" textLength="9.2" lengthAdjust="spacingAndGlyphs" stroke="#222" stroke-width="0.22" >**</text>
<rect x="439.8" y="601.5" width="21.2" height="7.2" fill="#c5032b"/>
<text x="468.1" y="608.9" font-size="10.5" text-anchor="start" fill="#333" font-weight="normal" font-style="italic" textLength="48" lengthAdjust="spacingAndGlyphs" stroke="#333" stroke-width="0.22" >shRen.713</text>
<rect x="439.8" y="617.9" width="21.2" height="7.2" fill="#124a84"/>
<text x="468.1" y="625.3" font-size="10.5" text-anchor="start" fill="#333" font-weight="normal" font-style="italic" textLength="46" lengthAdjust="spacingAndGlyphs" stroke="#333" stroke-width="0.22" >shErg.445</text>
<rect x="439.8" y="633.8" width="21.2" height="7.2" fill="#f39200"/>
<text x="468.1" y="641.1999999999999" font-size="10.5" text-anchor="start" fill="#333" font-weight="normal" font-style="italic" textLength="53" lengthAdjust="spacingAndGlyphs" stroke="#333" stroke-width="0.22" >shErg.1680</text>
<defs><radialGradient id="gC" cx="0.5" cy="0.5" r="0.6"><stop offset="0" stop-color="#1f2b92"/><stop offset="0.6" stop-color="#283fae"/><stop offset="1" stop-color="#3a60c2"/></radialGradient><radialGradient id="gD" cx="0.5" cy="0.5" r="0.6"><stop offset="0" stop-color="#17288a"/><stop offset="1" stop-color="#2a48b2"/></radialGradient><radialGradient id="gL" cx="0.5" cy="0.5" r="0.6"><stop offset="0" stop-color="#5b86cf"/><stop offset="1" stop-color="#9bbce6"/></radialGradient><radialGradient id="gF" cx="0.5" cy="0.5" r="0.6"><stop offset="0" stop-color="#7ba1da"/><stop offset="1" stop-color="#a6c1e9"/></radialGradient><filter id="bl" x="-50%" y="-50%" width="200%" height="200%"><feGaussianBlur stdDeviation="6"/></filter><filter id="soft" x="-5%" y="-5%" width="110%" height="110%"><feGaussianBlur stdDeviation="0.55"/></filter></defs>
<text x="0" y="859.6" font-size="18.5" text-anchor="start" fill="#111" font-weight="bold" font-style="normal" stroke="#111" stroke-width="0.3" >D</text>
<text x="108.8" y="863.3" font-size="10.5" text-anchor="middle" fill="#333" font-weight="normal" font-style="italic" textLength="47" lengthAdjust="spacingAndGlyphs" stroke="#333" stroke-width="0.1" >shRen.713</text>
<text x="268.3" y="863" font-size="10.5" text-anchor="middle" fill="#333" font-weight="normal" font-style="italic" textLength="51.8" lengthAdjust="spacingAndGlyphs" stroke="#333" stroke-width="0.1" >shErg.1680</text>
<text x="427" y="863" font-size="10.5" text-anchor="middle" fill="#333" font-weight="normal" font-style="italic" textLength="50.5" lengthAdjust="spacingAndGlyphs" stroke="#333" stroke-width="0.1" >shErg.1681</text>
<defs><clipPath id="c1"><rect x="29" y="869.5" width="156" height="155.5"/></clipPath><clipPath id="c2"><rect x="188.5" y="869.5" width="156.5" height="156"/></clipPath><clipPath id="c3"><rect x="349" y="869.5" width="156" height="156"/></clipPath><radialGradient id="pur1" cx="0.5" cy="0.5" r="0.5"><stop offset="0" stop-color="#cdb8d8"/><stop offset="1" stop-color="#cdb8d8" stop-opacity="0"/></radialGradient></defs>
<g clip-path="url(#c1)"><g filter="url(#soft)">
<rect x="28" y="868" width="158" height="158" fill="#f2edf3"/>
<g filter="url(#bl)" opacity="0.55"><ellipse cx="168" cy="874" rx="22" ry="8" fill="#cdb9d9"/><ellipse cx="183" cy="895" rx="6" ry="22" fill="#cdb9d9"/></g>
<path d="M29.0,869.0C33.2,867.0 58.7,868.4 62.0,869.0C65.3,869.6 57.3,873.2 55.0,874.0C52.7,874.8 46.5,874.2 44.0,875.0C41.5,875.8 36.9,878.7 35.0,880.0C33.1,881.3 29.8,886.4 29.0,885.0C28.2,883.6 24.8,871.0 29.0,869.0Z" fill="none" stroke="#e2ebfa" stroke-width="2.6" opacity="0.95"/>
<path d="M29.0,869.0C33.2,867.0 58.7,868.4 62.0,869.0C65.3,869.6 57.3,873.2 55.0,874.0C52.7,874.8 46.5,874.2 44.0,875.0C41.5,875.8 36.9,878.7 35.0,880.0C33.1,881.3 29.8,886.4 29.0,885.0C28.2,883.6 24.8,871.0 29.0,869.0Z" fill="url(#gC)"/>
<path d="M30.7,883.4C31.4,881.2 33.7,877.0 35.5,875.5C37.3,874.0 42.1,871.9 44.9,871.5C47.7,871.1 55.1,871.4 57.5,872.3C59.9,873.2 62.9,876.4 63.9,878.6C64.9,880.8 65.6,887.1 65.4,889.7C65.2,892.3 63.7,897.1 62.3,899.1C60.9,901.1 56.8,904.4 54.4,905.4C52.0,906.4 45.9,907.4 43.3,907.0C40.7,906.6 35.6,904.1 33.9,902.3C32.2,900.5 30.3,895.2 29.9,892.8C29.5,890.4 30.0,885.6 30.7,883.4Z" fill="none" stroke="#e2ebfa" stroke-width="2.6" opacity="0.95"/>
<path d="M30.7,883.4C31.4,881.2 33.7,877.0 35.5,875.5C37.3,874.0 42.1,871.9 44.9,871.5C47.7,871.1 55.1,871.4 57.5,872.3C59.9,873.2 62.9,876.4 63.9,878.6C64.9,880.8 65.6,887.1 65.4,889.7C65.2,892.3 63.7,897.1 62.3,899.1C60.9,901.1 56.8,904.4 54.4,905.4C52.0,906.4 45.9,907.4 43.3,907.0C40.7,906.6 35.6,904.1 33.9,902.3C32.2,900.5 30.3,895.2 29.9,892.8C29.5,890.4 30.0,885.6 30.7,883.4Z" fill="url(#gC)"/>
<path d="M63.9,877.0C65.4,875.6 70.9,872.7 73.3,872.3C75.7,871.9 81.0,872.5 82.8,873.9C84.6,875.3 87.3,880.9 87.5,883.3C87.7,885.7 86.2,891.2 84.4,892.8C82.6,894.4 75.9,896.0 73.3,896.0C70.7,896.0 65.4,894.4 63.9,892.8C62.4,891.2 61.5,885.3 61.5,883.3C61.5,881.3 62.4,878.4 63.9,877.0Z" fill="none" stroke="#e2ebfa" stroke-width="2.6" opacity="0.95"/>
<path d="M63.9,877.0C65.4,875.6 70.9,872.7 73.3,872.3C75.7,871.9 81.0,872.5 82.8,873.9C84.6,875.3 87.3,880.9 87.5,883.3C87.7,885.7 86.2,891.2 84.4,892.8C82.6,894.4 75.9,896.0 73.3,896.0C70.7,896.0 65.4,894.4 63.9,892.8C62.4,891.2 61.5,885.3 61.5,883.3C61.5,881.3 62.4,878.4 63.9,877.0Z" fill="url(#gC)"/>
<path d="M66.0,869.0C69.8,868.6 95.8,867.9 100.0,869.0C104.2,870.1 100.1,876.5 99.0,878.0C97.9,879.5 93.0,881.5 91.0,881.0C89.0,880.5 85.7,875.1 83.0,874.0C80.3,872.9 72.2,872.6 70.0,872.0C67.8,871.4 62.2,869.4 66.0,869.0Z" fill="none" stroke="#e2ebfa" stroke-width="2.6" opacity="0.95"/>
<path d="M66.0,869.0C69.8,868.6 95.8,867.9 100.0,869.0C104.2,870.1 100.1,876.5 99.0,878.0C97.9,879.5 93.0,881.5 91.0,881.0C89.0,880.5 85.7,875.1 83.0,874.0C80.3,872.9 72.2,872.6 70.0,872.0C67.8,871.4 62.2,869.4 66.0,869.0Z" fill="url(#gC)"/>
<path d="M57.5,902.3C58.4,900.2 61.7,896.2 63.9,895.2C66.1,894.2 72.3,893.7 74.9,894.4C77.5,895.1 82.9,898.5 84.4,900.7C85.9,902.9 87.1,908.9 86.7,911.7C86.3,914.5 83.3,920.8 81.2,922.8C79.1,924.8 72.8,927.5 70.2,927.5C67.6,927.5 62.4,924.8 60.7,922.8C59.0,920.8 57.2,914.3 56.8,911.7C56.4,909.1 56.6,904.4 57.5,902.3Z" fill="none" stroke="#e2ebfa" stroke-width="2.6" opacity="0.95"/>
<path d="M57.5,902.3C58.4,900.2 61.7,896.2 63.9,895.2C66.1,894.2 72.3,893.7 74.9,894.4C77.5,895.1 82.9,898.5 84.4,900.7C85.9,902.9 87.1,908.9 86.7,911.7C86.3,914.5 83.3,920.8 81.2,922.8C79.1,924.8 72.8,927.5 70.2,927.5C67.6,927.5 62.4,924.8 60.7,922.8C59.0,920.8 57.2,914.3 56.8,911.7C56.4,909.1 56.6,904.4 57.5,902.3Z" fill="url(#gC)"/>
<path d="M35.5,911.7C37.1,910.5 43.7,908.6 46.5,908.6C49.3,908.6 55.3,909.7 57.5,911.7C59.7,913.7 63.5,921.2 63.9,924.4C64.3,927.6 62.3,934.6 60.7,937.0C59.1,939.4 54.0,942.9 51.2,943.3C48.4,943.7 41.0,941.9 38.6,940.1C36.2,938.3 32.9,931.9 32.3,929.1C31.7,926.3 33.5,920.2 33.9,918.0C34.3,915.8 33.9,912.9 35.5,911.7Z" fill="none" stroke="#e2ebfa" stroke-width="2.6" opacity="0.95"/>
<path d="M35.5,911.7C37.1,910.5 43.7,908.6 46.5,908.6C49.3,908.6 55.3,909.7 57.5,911.7C59.7,913.7 63.5,921.2 63.9,924.4C64.3,927.6 62.3,934.6 60.7,937.0C59.1,939.4 54.0,942.9 51.2,943.3C48.4,943.7 41.0,941.9 38.6,940.1C36.2,938.3 32.9,931.9 32.3,929.1C31.7,926.3 33.5,920.2 33.9,918.0C34.3,915.8 33.9,912.9 35.5,911.7Z" fill="url(#gC)"/>
<path d="M79.6,922.8C80.3,920.8 83.7,916.3 85.9,914.9C88.1,913.5 94.8,911.5 97.0,911.7C99.2,911.9 102.5,914.3 103.3,916.5C104.1,918.7 104.1,926.5 103.3,929.1C102.5,931.7 99.2,936.0 97.0,937.0C94.8,938.0 88.0,937.8 85.9,937.0C83.8,936.2 81.2,932.5 80.4,930.7C79.6,928.9 78.9,924.8 79.6,922.8Z" fill="none" stroke="#e2ebfa" stroke-width="2.6" opacity="0.95"/>
<path d="M79.6,922.8C80.3,920.8 83.7,916.3 85.9,914.9C88.1,913.5 94.8,911.5 97.0,911.7C99.2,911.9 102.5,914.3 103.3,916.5C104.1,918.7 104.1,926.5 103.3,929.1C102.5,931.7 99.2,936.0 97.0,937.0C94.8,938.0 88.0,937.8 85.9,937.0C83.8,936.2 81.2,932.5 80.4,930.7C79.6,928.9 78.9,924.8 79.6,922.8Z" fill="url(#gC)"/>
<path d="M59.1,938.6C60.0,936.9 63.2,933.2 65.4,932.2C67.6,931.2 74.4,930.1 76.5,930.7C78.6,931.3 81.3,934.9 82.0,937.0C82.7,939.1 82.3,945.2 82.0,947.0C81.7,948.8 80.9,950.2 79.6,951.0C78.3,951.8 73.9,952.9 71.7,953.0C69.5,953.1 64.0,953.0 62.3,952.1C60.6,951.2 58.7,947.7 58.3,946.0C57.9,944.3 58.2,940.3 59.1,938.6Z" fill="none" stroke="#e2ebfa" stroke-width="2.6" opacity="0.95"/>
<path d="M59.1,938.6C60.0,936.9 63.2,933.2 65.4,932.2C67.6,931.2 74.4,930.1 76.5,930.7C78.6,931.3 81.3,934.9 82.0,937.0C82.7,939.1 82.3,945.2 82.0,947.0C81.7,948.8 80.9,950.2 79.6,951.0C78.3,951.8 73.9,952.9 71.7,953.0C69.5,953.1 64.0,953.0 62.3,952.1C60.6,951.2 58.7,947.7 58.3,946.0C57.9,944.3 58.2,940.3 59.1,938.6Z" fill="url(#gC)"/>
<path d="M104.0,889.0C104.4,887.3 110.0,881.9 112.3,880.2C114.6,878.5 119.0,876.4 121.8,875.5C124.6,874.6 131.8,873.0 134.4,873.1C137.0,873.2 141.4,875.2 142.3,876.3C143.2,877.4 142.7,880.1 141.5,881.8C140.3,883.5 135.3,888.3 132.8,889.7C130.3,891.1 124.8,892.5 121.8,893.0C118.8,893.5 111.5,894.1 109.2,893.6C106.9,893.1 103.6,890.7 104.0,889.0Z" fill="none" stroke="#e2ebfa" stroke-width="2.6" opacity="0.95"/>
<path d="M104.0,889.0C104.4,887.3 110.0,881.9 112.3,880.2C114.6,878.5 119.0,876.4 121.8,875.5C124.6,874.6 131.8,873.0 134.4,873.1C137.0,873.2 141.4,875.2 142.3,876.3C143.2,877.4 142.7,880.1 141.5,881.8C140.3,883.5 135.3,888.3 132.8,889.7C130.3,891.1 124.8,892.5 121.8,893.0C118.8,893.5 111.5,894.1 109.2,893.6C106.9,893.1 103.6,890.7 104.0,889.0Z" fill="url(#gC)"/>
<path d="M146.7,933.8C147.0,931.9 150.1,928.8 151.9,927.8C153.7,926.8 158.4,925.8 160.6,926.1C162.8,926.4 167.9,928.8 169.2,930.4C170.5,932.0 171.2,937.0 170.9,939.0C170.6,941.0 168.3,944.9 166.6,946.0C164.9,947.1 159.3,948.1 157.1,947.7C154.9,947.3 150.6,944.3 149.3,942.5C148.0,940.7 146.4,935.7 146.7,933.8Z" fill="none" stroke="#e2ebfa" stroke-width="2.6" opacity="0.95"/>
<path d="M146.7,933.8C147.0,931.9 150.1,928.8 151.9,927.8C153.7,926.8 158.4,925.8 160.6,926.1C162.8,926.4 167.9,928.8 169.2,930.4C170.5,932.0 171.2,937.0 170.9,939.0C170.6,941.0 168.3,944.9 166.6,946.0C164.9,947.1 159.3,948.1 157.1,947.7C154.9,947.3 150.6,944.3 149.3,942.5C148.0,940.7 146.4,935.7 146.7,933.8Z" fill="url(#gC)"/>
<path d="M44.9,959.2C46.0,957.8 50.2,955.1 52.8,954.5C55.4,953.9 62.4,953.9 65.4,954.5C68.4,955.1 74.8,957.2 76.5,959.2C78.2,961.2 79.2,967.6 78.8,970.2C78.4,972.8 75.6,978.4 73.3,979.7C71.0,981.0 63.7,981.3 60.7,980.5C57.7,979.7 51.8,975.3 49.7,973.4C47.6,971.5 44.7,967.3 44.1,965.5C43.5,963.7 43.8,960.6 44.9,959.2Z" fill="none" stroke="#e2ebfa" stroke-width="2.6" opacity="0.95"/>
<path d="M44.9,959.2C46.0,957.8 50.2,955.1 52.8,954.5C55.4,953.9 62.4,953.9 65.4,954.5C68.4,955.1 74.8,957.2 76.5,959.2C78.2,961.2 79.2,967.6 78.8,970.2C78.4,972.8 75.6,978.4 73.3,979.7C71.0,981.0 63.7,981.3 60.7,980.5C57.7,979.7 51.8,975.3 49.7,973.4C47.6,971.5 44.7,967.3 44.1,965.5C43.5,963.7 43.8,960.6 44.9,959.2Z" fill="url(#gC)"/>
<path d="M79.6,952.9C80.5,950.8 85.1,948.0 87.5,947.4C89.9,946.8 96.4,947.3 98.6,948.2C100.8,949.1 104.0,952.1 104.9,954.5C105.8,956.9 106.5,964.9 105.7,967.1C104.9,969.3 101.1,971.3 98.6,971.8C96.1,972.3 88.2,972.0 85.9,971.0C83.6,970.0 81.2,966.2 80.4,963.9C79.6,961.6 78.7,955.0 79.6,952.9Z" fill="none" stroke="#e2ebfa" stroke-width="2.6" opacity="0.95"/>
<path d="M79.6,952.9C80.5,950.8 85.1,948.0 87.5,947.4C89.9,946.8 96.4,947.3 98.6,948.2C100.8,949.1 104.0,952.1 104.9,954.5C105.8,956.9 106.5,964.9 105.7,967.1C104.9,969.3 101.1,971.3 98.6,971.8C96.1,972.3 88.2,972.0 85.9,971.0C83.6,970.0 81.2,966.2 80.4,963.9C79.6,961.6 78.7,955.0 79.6,952.9Z" fill="url(#gC)"/>
<path d="M32.3,979.7C33.3,978.1 37.6,975.5 40.2,975.0C42.8,974.5 50.2,974.8 52.8,975.8C55.4,976.8 59.6,980.4 60.7,982.9C61.8,985.4 62.1,992.9 61.5,995.5C60.9,998.1 58.3,1002.2 56.0,1003.4C53.7,1004.6 45.9,1005.8 43.3,1005.0C40.7,1004.2 36.9,999.3 35.5,997.1C34.1,994.9 32.7,989.8 32.3,987.6C31.9,985.4 31.3,981.3 32.3,979.7Z" fill="none" stroke="#e2ebfa" stroke-width="2.6" opacity="0.95"/>
<path d="M32.3,979.7C33.3,978.1 37.6,975.5 40.2,975.0C42.8,974.5 50.2,974.8 52.8,975.8C55.4,976.8 59.6,980.4 60.7,982.9C61.8,985.4 62.1,992.9 61.5,995.5C60.9,998.1 58.3,1002.2 56.0,1003.4C53.7,1004.6 45.9,1005.8 43.3,1005.0C40.7,1004.2 36.9,999.3 35.5,997.1C34.1,994.9 32.7,989.8 32.3,987.6C31.9,985.4 31.3,981.3 32.3,979.7Z" fill="url(#gC)"/>
<path d="M62.3,984.4C63.6,983.1 69.5,981.7 71.7,982.1C73.9,982.5 78.3,985.7 79.6,987.6C80.9,989.5 82.6,995.3 82.0,997.1C81.4,998.9 77.2,1001.3 74.9,1001.8C72.6,1002.3 65.6,1002.2 63.9,1001.0C62.2,999.8 61.7,994.4 61.5,992.3C61.3,990.2 61.0,985.7 62.3,984.4Z" fill="none" stroke="#e2ebfa" stroke-width="2.6" opacity="0.95"/>
<path d="M62.3,984.4C63.6,983.1 69.5,981.7 71.7,982.1C73.9,982.5 78.3,985.7 79.6,987.6C80.9,989.5 82.6,995.3 82.0,997.1C81.4,998.9 77.2,1001.3 74.9,1001.8C72.6,1002.3 65.6,1002.2 63.9,1001.0C62.2,999.8 61.7,994.4 61.5,992.3C61.3,990.2 61.0,985.7 62.3,984.4Z" fill="url(#gC)"/>
<path d="M80.4,976.5C81.5,975.1 86.6,973.7 89.1,973.4C91.6,973.1 97.5,973.4 100.1,974.2C102.7,975.0 109.0,978.1 110.0,979.5C111.0,980.9 109.1,983.2 108.0,985.0C106.9,986.8 103.7,992.2 101.7,993.9C99.7,995.6 94.4,998.6 92.2,998.6C90.0,998.6 85.9,995.7 84.4,993.9C82.9,992.1 80.9,986.6 80.4,984.4C79.9,982.2 79.3,977.9 80.4,976.5Z" fill="none" stroke="#e2ebfa" stroke-width="2.6" opacity="0.95"/>
<path d="M80.4,976.5C81.5,975.1 86.6,973.7 89.1,973.4C91.6,973.1 97.5,973.4 100.1,974.2C102.7,975.0 109.0,978.1 110.0,979.5C111.0,980.9 109.1,983.2 108.0,985.0C106.9,986.8 103.7,992.2 101.7,993.9C99.7,995.6 94.4,998.6 92.2,998.6C90.0,998.6 85.9,995.7 84.4,993.9C82.9,992.1 80.9,986.6 80.4,984.4C79.9,982.2 79.3,977.9 80.4,976.5Z" fill="url(#gC)"/>
<path d="M95.4,1004.0C95.8,1000.8 101.2,988.9 103.3,986.0C105.4,983.1 110.4,981.5 112.3,981.3C114.2,981.1 117.4,982.8 118.6,984.4C119.8,986.0 121.8,991.1 121.8,993.9C121.8,996.7 119.8,1004.3 118.6,1006.5C117.4,1008.7 114.6,1010.6 112.3,1011.2C110.0,1011.8 102.2,1012.1 100.1,1011.2C98.0,1010.3 95.0,1007.2 95.4,1004.0Z" fill="none" stroke="#e2ebfa" stroke-width="2.6" opacity="0.95"/>
<path d="M95.4,1004.0C95.8,1000.8 101.2,988.9 103.3,986.0C105.4,983.1 110.4,981.5 112.3,981.3C114.2,981.1 117.4,982.8 118.6,984.4C119.8,986.0 121.8,991.1 121.8,993.9C121.8,996.7 119.8,1004.3 118.6,1006.5C117.4,1008.7 114.6,1010.6 112.3,1011.2C110.0,1011.8 102.2,1012.1 100.1,1011.2C98.0,1010.3 95.0,1007.2 95.4,1004.0Z" fill="url(#gC)"/>
<path d="M44.9,1011.2C45.5,1009.0 51.4,1004.6 54.4,1003.4C57.4,1002.2 65.2,1001.2 68.6,1001.8C72.0,1002.4 79.1,1006.1 81.2,1008.1C83.3,1010.1 85.5,1015.6 85.1,1017.6C84.7,1019.6 80.9,1023.0 78.0,1023.9C75.1,1024.8 65.9,1025.4 62.3,1025.0C58.7,1024.6 51.9,1022.4 49.7,1020.7C47.5,1019.0 44.3,1013.4 44.9,1011.2Z" fill="none" stroke="#e2ebfa" stroke-width="2.6" opacity="0.95"/>
<path d="M44.9,1011.2C45.5,1009.0 51.4,1004.6 54.4,1003.4C57.4,1002.2 65.2,1001.2 68.6,1001.8C72.0,1002.4 79.1,1006.1 81.2,1008.1C83.3,1010.1 85.5,1015.6 85.1,1017.6C84.7,1019.6 80.9,1023.0 78.0,1023.9C75.1,1024.8 65.9,1025.4 62.3,1025.0C58.7,1024.6 51.9,1022.4 49.7,1020.7C47.5,1019.0 44.3,1013.4 44.9,1011.2Z" fill="url(#gC)"/>
<path d="M103.5,946.0C104.3,943.8 108.2,941.6 110.4,940.8C112.6,940.0 118.6,939.2 120.8,939.9C123.0,940.6 126.7,943.7 127.7,946.0C128.7,948.3 129.2,955.6 128.5,958.1C127.8,960.6 124.6,964.8 122.5,965.8C120.4,966.8 114.4,966.8 112.1,965.8C109.8,964.8 105.4,960.6 104.3,958.1C103.2,955.6 102.7,948.2 103.5,946.0Z" fill="none" stroke="#e2ebfa" stroke-width="2.6" opacity="0.95"/>
<path d="M103.5,946.0C104.3,943.8 108.2,941.6 110.4,940.8C112.6,940.0 118.6,939.2 120.8,939.9C123.0,940.6 126.7,943.7 127.7,946.0C128.7,948.3 129.2,955.6 128.5,958.1C127.8,960.6 124.6,964.8 122.5,965.8C120.4,966.8 114.4,966.8 112.1,965.8C109.8,964.8 105.4,960.6 104.3,958.1C103.2,955.6 102.7,948.2 103.5,946.0Z" fill="url(#gC)"/>
<path d="M119.0,970.2C119.6,968.7 124.4,961.9 126.0,959.8C127.6,957.7 130.8,954.0 132.0,953.7C133.2,953.4 135.2,955.8 135.5,957.2C135.8,958.6 135.6,963.4 134.6,965.0C133.6,966.6 129.3,969.3 127.7,970.2C126.1,971.1 122.7,971.9 121.6,971.9C120.5,971.9 118.4,971.7 119.0,970.2Z" fill="none" stroke="#e2ebfa" stroke-width="2.6" opacity="0.95"/>
<path d="M119.0,970.2C119.6,968.7 124.4,961.9 126.0,959.8C127.6,957.7 130.8,954.0 132.0,953.7C133.2,953.4 135.2,955.8 135.5,957.2C135.8,958.6 135.6,963.4 134.6,965.0C133.6,966.6 129.3,969.3 127.7,970.2C126.1,971.1 122.7,971.9 121.6,971.9C120.5,971.9 118.4,971.7 119.0,970.2Z" fill="url(#gC)"/>
<path d="M136.3,952.9C136.8,950.9 139.7,945.5 141.5,944.2C143.3,942.9 148.1,942.1 150.2,942.5C152.3,942.9 156.9,945.7 158.0,947.7C159.1,949.7 159.4,956.0 158.8,958.1C158.2,960.2 155.6,963.2 153.6,964.1C151.6,965.0 145.4,965.5 143.3,965.0C141.2,964.5 138.1,961.3 137.2,959.8C136.3,958.3 135.8,954.9 136.3,952.9Z" fill="none" stroke="#e2ebfa" stroke-width="2.6" opacity="0.95"/>
<path d="M136.3,952.9C136.8,950.9 139.7,945.5 141.5,944.2C143.3,942.9 148.1,942.1 150.2,942.5C152.3,942.9 156.9,945.7 158.0,947.7C159.1,949.7 159.4,956.0 158.8,958.1C158.2,960.2 155.6,963.2 153.6,964.1C151.6,965.0 145.4,965.5 143.3,965.0C141.2,964.5 138.1,961.3 137.2,959.8C136.3,958.3 135.8,954.9 136.3,952.9Z" fill="url(#gC)"/>
<path d="M158.8,961.5C159.1,958.9 162.2,951.6 164.0,949.4C165.8,947.2 170.5,944.4 172.7,944.2C174.9,944.0 179.8,945.9 181.3,947.7C182.8,949.5 184.8,955.5 184.8,958.1C184.8,960.7 183.1,966.7 181.3,968.4C179.5,970.1 173.4,971.7 170.9,971.9C168.4,972.1 162.9,971.5 161.4,970.2C159.9,968.9 158.5,964.1 158.8,961.5Z" fill="none" stroke="#e2ebfa" stroke-width="2.6" opacity="0.95"/>
<path d="M158.8,961.5C159.1,958.9 162.2,951.6 164.0,949.4C165.8,947.2 170.5,944.4 172.7,944.2C174.9,944.0 179.8,945.9 181.3,947.7C182.8,949.5 184.8,955.5 184.8,958.1C184.8,960.7 183.1,966.7 181.3,968.4C179.5,970.1 173.4,971.7 170.9,971.9C168.4,972.1 162.9,971.5 161.4,970.2C159.9,968.9 158.5,964.1 158.8,961.5Z" fill="url(#gC)"/>
<path d="M151.9,985.7C152.7,983.2 155.1,977.0 157.1,975.4C159.1,973.8 165.1,972.8 167.5,972.8C169.9,972.8 174.6,973.8 176.1,975.4C177.6,977.0 179.5,982.8 179.6,985.7C179.7,988.6 178.3,995.8 177.0,998.6C175.7,1001.4 171.5,1007.1 169.1,1008.1C166.7,1009.1 160.3,1008.2 158.0,1006.5C155.7,1004.8 151.8,997.6 151.0,995.0C150.2,992.4 151.1,988.2 151.9,985.7Z" fill="none" stroke="#e2ebfa" stroke-width="2.6" opacity="0.95"/>
<path d="M151.9,985.7C152.7,983.2 155.1,977.0 157.1,975.4C159.1,973.8 165.1,972.8 167.5,972.8C169.9,972.8 174.6,973.8 176.1,975.4C177.6,977.0 179.5,982.8 179.6,985.7C179.7,988.6 178.3,995.8 177.0,998.6C175.7,1001.4 171.5,1007.1 169.1,1008.1C166.7,1009.1 160.3,1008.2 158.0,1006.5C155.7,1004.8 151.8,997.6 151.0,995.0C150.2,992.4 151.1,988.2 151.9,985.7Z" fill="url(#gC)"/>
<path d="M30.7,883.4C31.4,881.2 33.7,877.0 35.5,875.5C37.3,874.0 42.1,871.9 44.9,871.5C47.7,871.1 55.1,871.4 57.5,872.3C59.9,873.2 62.9,876.4 63.9,878.6C64.9,880.8 65.6,887.1 65.4,889.7C65.2,892.3 63.7,897.1 62.3,899.1C60.9,901.1 56.8,904.4 54.4,905.4C52.0,906.4 45.9,907.4 43.3,907.0C40.7,906.6 35.6,904.1 33.9,902.3C32.2,900.5 30.3,895.2 29.9,892.8C29.5,890.4 30.0,885.6 30.7,883.4Z" fill="#3a60bf"/>
<ellipse cx="48" cy="888.5" rx="14" ry="14" fill="#2c47b0" opacity="1" transform="rotate(0 48 888.5)"/>
<ellipse cx="48.5" cy="888" rx="10.5" ry="10.5" fill="#1c2c92" opacity="1" transform="rotate(0 48.5 888)"/>
<path d="M127.7,968.4C128.9,966.9 132.2,963.9 134.6,963.3C137.0,962.7 144.1,962.7 146.7,963.3C149.3,963.9 154.1,966.7 155.4,968.4C156.7,970.1 157.8,975.0 157.1,977.1C156.4,979.2 152.4,983.7 150.2,984.9C148.0,986.1 142.7,986.9 139.8,986.6C137.0,986.3 129.6,983.7 127.7,982.3C125.8,980.9 125.1,977.2 125.1,975.4C125.1,973.6 126.5,969.9 127.7,968.4Z" fill="url(#gF)"/>
<circle cx="142.7" cy="980.6" r="1.2" fill="#eef4fc" opacity="0.85"/>
<circle cx="134.5" cy="969.7" r="0.9" fill="#eef4fc" opacity="0.85"/>
<circle cx="152.9" cy="974.7" r="1.1" fill="#eef4fc" opacity="0.85"/>
<circle cx="143.2" cy="982.9" r="1.3" fill="#eef4fc" opacity="0.85"/>
<circle cx="146.3" cy="968.7" r="1.4" fill="#eef4fc" opacity="0.85"/>
<circle cx="147.6" cy="979.8" r="1.7" fill="#eef4fc" opacity="0.85"/>
<circle cx="131.8" cy="972.9" r="1.5" fill="#eef4fc" opacity="0.85"/>
<circle cx="151.6" cy="977.1" r="1.4" fill="#eef4fc" opacity="0.85"/>
<circle cx="141.3" cy="975.5" r="1.7" fill="#eef4fc" opacity="0.85"/>
<circle cx="132.0" cy="975.3" r="1.7" fill="#eef4fc" opacity="0.85"/>
<circle cx="139.4" cy="965.6" r="1.2" fill="#eef4fc" opacity="0.85"/>
<circle cx="144.5" cy="968.3" r="1.7" fill="#eef4fc" opacity="0.85"/>
<circle cx="144.7" cy="972.1" r="0.9" fill="#eef4fc" opacity="0.85"/>
<circle cx="144.4" cy="982.7" r="1.2" fill="#eef4fc" opacity="0.85"/>
<circle cx="137.4" cy="970.5" r="1.3" fill="#eef4fc" opacity="0.85"/>
<circle cx="136.6" cy="977.5" r="1.4" fill="#eef4fc" opacity="0.85"/>
<circle cx="132.2" cy="969.7" r="1.5" fill="#eef4fc" opacity="0.85"/>
<circle cx="152.0" cy="970.4" r="1.8" fill="#eef4fc" opacity="0.85"/>
<circle cx="139.7" cy="970.8" r="1.7" fill="#eef4fc" opacity="0.85"/>
<circle cx="153.1" cy="972.1" r="1.4" fill="#eef4fc" opacity="0.85"/>
<circle cx="140.8" cy="970.0" r="1.6" fill="#eef4fc" opacity="0.85"/>
<circle cx="136.3" cy="971.9" r="0.9" fill="#eef4fc" opacity="0.85"/>
<path d="M126.0,975.4C126.9,974.3 131.8,972.9 132.9,973.6C134.0,974.3 133.5,979.6 134.6,980.6C135.7,981.6 140.2,980.9 141.5,981.4C142.8,981.9 145.2,984.1 145.0,984.9C144.8,985.7 141.6,987.3 139.8,987.5C138.0,987.7 132.8,987.3 131.1,986.6C129.4,985.9 126.6,983.7 126.0,982.3C125.4,980.9 125.1,976.5 126.0,975.4Z" fill="#1c2c92"/>
<ellipse cx="165" cy="1004" rx="10" ry="4" fill="#6d94d6" opacity="0.55" transform="rotate(0 165 1004)"/>
</g></g>
<rect x="29" y="869.5" width="156" height="155.5" fill="none" stroke="#3a3a3a" stroke-width="1.4"/>
<g clip-path="url(#c2)"><g filter="url(#soft)">
<rect x="187" y="868" width="160" height="160" fill="#ebe5f1"/>
<g filter="url(#bl)" opacity="0.6"><ellipse cx="270" cy="885" rx="45" ry="14" fill="#c7b5dd" transform="rotate(20 270 885)"/><ellipse cx="210" cy="915" rx="22" ry="18" fill="#bfaedb"/><ellipse cx="300" cy="905" rx="20" ry="25" fill="#cdbde0"/></g>
<path d="M189.7,903.9C191.1,901.1 198.6,902.7 200.8,903.9C203.0,905.1 206.5,910.5 207.1,913.3C207.7,916.1 206.7,923.9 205.5,925.9C204.3,927.9 199.6,929.1 197.6,929.1C195.6,929.1 190.7,929.1 189.7,925.9C188.7,922.7 188.3,906.7 189.7,903.9Z" fill="none" stroke="#e2ebfa" stroke-width="2.6" opacity="0.95"/>
<path d="M189.7,903.9C191.1,901.1 198.6,902.7 200.8,903.9C203.0,905.1 206.5,910.5 207.1,913.3C207.7,916.1 206.7,923.9 205.5,925.9C204.3,927.9 199.6,929.1 197.6,929.1C195.6,929.1 190.7,929.1 189.7,925.9C188.7,922.7 188.3,906.7 189.7,903.9Z" fill="#3b3aa6"/>
<path d="M224.4,875.5C225.9,874.1 234.0,870.9 237.0,870.7C240.0,870.5 246.3,872.3 248.1,873.9C249.9,875.5 250.6,880.7 251.2,883.3C251.8,885.9 253.2,892.0 252.8,894.4C252.4,896.8 249.9,900.9 248.1,902.3C246.3,903.7 240.8,905.6 238.6,905.4C236.4,905.2 232.1,902.5 230.7,900.7C229.3,898.9 228.3,893.6 227.6,891.2C226.9,888.8 225.6,883.8 225.2,881.8C224.8,879.8 222.9,876.9 224.4,875.5Z" fill="none" stroke="#e2ebfa" stroke-width="2.6" opacity="0.95"/>
<path d="M224.4,875.5C225.9,874.1 234.0,870.9 237.0,870.7C240.0,870.5 246.3,872.3 248.1,873.9C249.9,875.5 250.6,880.7 251.2,883.3C251.8,885.9 253.2,892.0 252.8,894.4C252.4,896.8 249.9,900.9 248.1,902.3C246.3,903.7 240.8,905.6 238.6,905.4C236.4,905.2 232.1,902.5 230.7,900.7C229.3,898.9 228.3,893.6 227.6,891.2C226.9,888.8 225.6,883.8 225.2,881.8C224.8,879.8 222.9,876.9 224.4,875.5Z" fill="url(#gL)"/>
<ellipse cx="238.6" cy="880.2" rx="6.5" ry="6.5" fill="#1c2c92" opacity="1" transform="rotate(0 238.6 880.2)"/>
<ellipse cx="233.9" cy="889.7" rx="4.8" ry="4.8" fill="#1c2c92" opacity="1" transform="rotate(0 233.9 889.7)"/>
<ellipse cx="244.1" cy="891.2" rx="5.6" ry="5.6" fill="#1c2c92" opacity="1" transform="rotate(0 244.1 891.2)"/>
<ellipse cx="240.2" cy="900.7" rx="4.8" ry="4.8" fill="#1c2c92" opacity="1" transform="rotate(0 240.2 900.7)"/>
<path d="M202.4,899.1C203.9,897.1 209.2,893.4 211.8,892.8C214.4,892.2 220.7,893.4 222.9,894.4C225.1,895.4 228.6,898.3 229.2,900.7C229.8,903.1 228.6,910.7 227.6,913.3C226.6,915.9 223.5,919.8 221.3,921.2C219.1,922.6 212.6,924.8 210.2,924.4C207.8,924.0 203.7,920.0 202.4,918.0C201.1,916.0 200.0,911.0 200.0,908.6C200.0,906.2 200.9,901.1 202.4,899.1Z" fill="none" stroke="#e2ebfa" stroke-width="2.6" opacity="0.95"/>
<path d="M202.4,899.1C203.9,897.1 209.2,893.4 211.8,892.8C214.4,892.2 220.7,893.4 222.9,894.4C225.1,895.4 228.6,898.3 229.2,900.7C229.8,903.1 228.6,910.7 227.6,913.3C226.6,915.9 223.5,919.8 221.3,921.2C219.1,922.6 212.6,924.8 210.2,924.4C207.8,924.0 203.7,920.0 202.4,918.0C201.1,916.0 200.0,911.0 200.0,908.6C200.0,906.2 200.9,901.1 202.4,899.1Z" fill="url(#gL)"/>
<ellipse cx="216.5" cy="902.3" rx="7" ry="7" fill="#1c2c92" opacity="1" transform="rotate(0 216.5 902.3)"/>
<ellipse cx="218.1" cy="913.3" rx="6.3" ry="6.3" fill="#1c2c92" opacity="1" transform="rotate(0 218.1 913.3)"/>
<ellipse cx="208.7" cy="907" rx="4.8" ry="4.8" fill="#1c2c92" opacity="1" transform="rotate(0 208.7 907)"/>
<path d="M192.9,937.0C193.9,934.8 198.4,931.3 200.8,930.7C203.2,930.1 209.8,931.0 211.8,932.2C213.8,933.4 216.1,938.1 216.5,940.1C216.9,942.1 215.4,946.6 215.0,948.0C214.6,949.4 214.6,950.5 213.4,951.3C212.2,952.1 207.7,954.3 205.5,954.5C203.3,954.7 197.6,953.7 196.0,952.9C194.4,952.1 193.3,950.2 192.9,948.2C192.5,946.2 191.9,939.2 192.9,937.0Z" fill="none" stroke="#e2ebfa" stroke-width="2.6" opacity="0.95"/>
<path d="M192.9,937.0C193.9,934.8 198.4,931.3 200.8,930.7C203.2,930.1 209.8,931.0 211.8,932.2C213.8,933.4 216.1,938.1 216.5,940.1C216.9,942.1 215.4,946.6 215.0,948.0C214.6,949.4 214.6,950.5 213.4,951.3C212.2,952.1 207.7,954.3 205.5,954.5C203.3,954.7 197.6,953.7 196.0,952.9C194.4,952.1 193.3,950.2 192.9,948.2C192.5,946.2 191.9,939.2 192.9,937.0Z" fill="url(#gC)"/>
<path d="M262.9,906.5C264.7,904.5 272.5,902.6 275.3,903.4C278.1,904.2 282.9,909.9 284.7,912.7C286.5,915.5 289.0,922.2 289.4,925.2C289.8,928.2 289.6,934.1 287.8,936.1C286.0,938.1 278.1,941.0 275.3,940.8C272.5,940.6 267.8,937.3 266.0,934.5C264.2,931.7 261.7,922.5 261.3,919.0C260.9,915.5 261.1,908.5 262.9,906.5Z" fill="none" stroke="#e2ebfa" stroke-width="2.6" opacity="0.95"/>
<path d="M262.9,906.5C264.7,904.5 272.5,902.6 275.3,903.4C278.1,904.2 282.9,909.9 284.7,912.7C286.5,915.5 289.0,922.2 289.4,925.2C289.8,928.2 289.6,934.1 287.8,936.1C286.0,938.1 278.1,941.0 275.3,940.8C272.5,940.6 267.8,937.3 266.0,934.5C264.2,931.7 261.7,922.5 261.3,919.0C260.9,915.5 261.1,908.5 262.9,906.5Z" fill="url(#gC)"/>
<ellipse cx="265" cy="908" rx="3" ry="3.5" fill="url(#gL)" opacity="0.8" transform="rotate(0 265 908)"/>
<path d="M298.1,870.7C301.1,869.9 322.1,869.7 324.9,870.7C327.7,871.7 322.2,877.4 320.2,878.6C318.2,879.8 311.6,880.4 309.2,880.2C306.8,880.0 302.7,878.2 301.3,877.0C299.9,875.8 295.1,871.5 298.1,870.7Z" fill="none" stroke="#e2ebfa" stroke-width="2.6" opacity="0.95"/>
<path d="M298.1,870.7C301.1,869.9 322.1,869.7 324.9,870.7C327.7,871.7 322.2,877.4 320.2,878.6C318.2,879.8 311.6,880.4 309.2,880.2C306.8,880.0 302.7,878.2 301.3,877.0C299.9,875.8 295.1,871.5 298.1,870.7Z" fill="#2d4ab8"/>
<path d="M315.5,883.3C316.6,881.3 320.8,875.5 323.4,873.9C326.0,872.3 333.4,870.9 336.0,870.7C338.6,870.5 342.8,869.9 343.9,872.3C345.0,874.7 345.1,886.5 344.7,889.7C344.3,892.9 342.8,896.1 340.7,897.5C338.6,898.9 330.9,900.9 328.1,900.7C325.3,900.5 320.3,897.4 318.6,896.0C316.9,894.6 315.1,891.3 314.7,889.7C314.3,888.1 314.4,885.3 315.5,883.3Z" fill="none" stroke="#e2ebfa" stroke-width="2.6" opacity="0.95"/>
<path d="M315.5,883.3C316.6,881.3 320.8,875.5 323.4,873.9C326.0,872.3 333.4,870.9 336.0,870.7C338.6,870.5 342.8,869.9 343.9,872.3C345.0,874.7 345.1,886.5 344.7,889.7C344.3,892.9 342.8,896.1 340.7,897.5C338.6,898.9 330.9,900.9 328.1,900.7C325.3,900.5 320.3,897.4 318.6,896.0C316.9,894.6 315.1,891.3 314.7,889.7C314.3,888.1 314.4,885.3 315.5,883.3Z" fill="#1c2c92"/>
<path d="M323.4,908.6C323.9,906.8 326.3,901.8 328.1,900.7C329.9,899.6 335.5,899.3 337.6,899.9C339.7,900.5 343.8,903.3 344.7,905.4C345.6,907.5 345.4,914.5 344.7,916.5C344.0,918.5 341.0,920.7 339.1,921.2C337.2,921.7 331.6,921.2 329.7,920.4C327.8,919.6 325.0,916.4 324.2,914.9C323.4,913.4 322.9,910.4 323.4,908.6Z" fill="none" stroke="#e2ebfa" stroke-width="2.6" opacity="0.95"/>
<path d="M323.4,908.6C323.9,906.8 326.3,901.8 328.1,900.7C329.9,899.6 335.5,899.3 337.6,899.9C339.7,900.5 343.8,903.3 344.7,905.4C345.6,907.5 345.4,914.5 344.7,916.5C344.0,918.5 341.0,920.7 339.1,921.2C337.2,921.7 331.6,921.2 329.7,920.4C327.8,919.6 325.0,916.4 324.2,914.9C323.4,913.4 322.9,910.4 323.4,908.6Z" fill="#2440ac"/>
<path d="M307.6,921.2C309.2,919.1 312.3,914.5 313.9,913.3C315.5,912.1 319.2,910.1 320.2,911.7C321.2,913.3 321.2,922.7 321.8,925.9C322.4,929.1 324.5,934.6 324.9,937.0C325.3,939.4 325.1,943.0 324.9,945.0C324.7,947.0 324.8,951.3 323.4,952.9C322.0,954.5 316.5,957.0 313.9,957.6C311.3,958.2 305.0,958.4 302.9,957.6C300.8,956.8 297.7,953.5 297.3,951.3C296.9,949.1 299.2,942.7 299.7,940.0C300.2,937.3 300.3,932.4 301.3,930.0C302.3,927.6 306.0,923.3 307.6,921.2Z" fill="none" stroke="#e2ebfa" stroke-width="2.6" opacity="0.95"/>
<path d="M307.6,921.2C309.2,919.1 312.3,914.5 313.9,913.3C315.5,912.1 319.2,910.1 320.2,911.7C321.2,913.3 321.2,922.7 321.8,925.9C322.4,929.1 324.5,934.6 324.9,937.0C325.3,939.4 325.1,943.0 324.9,945.0C324.7,947.0 324.8,951.3 323.4,952.9C322.0,954.5 316.5,957.0 313.9,957.6C311.3,958.2 305.0,958.4 302.9,957.6C300.8,956.8 297.7,953.5 297.3,951.3C296.9,949.1 299.2,942.7 299.7,940.0C300.2,937.3 300.3,932.4 301.3,930.0C302.3,927.6 306.0,923.3 307.6,921.2Z" fill="url(#gL)"/>
<ellipse cx="311" cy="939" rx="14" ry="16" fill="url(#gC)" opacity="1" transform="rotate(0 311 939)"/>
<path d="M191.3,968.7C191.9,966.5 195.4,962.2 197.6,960.8C199.8,959.4 205.9,957.8 208.7,957.6C211.5,957.4 217.8,958.0 219.7,959.2C221.6,960.4 223.2,964.9 223.6,967.1C224.0,969.3 224.0,974.7 222.9,976.5C221.8,978.3 217.6,980.6 215.0,981.3C212.4,982.0 205.2,982.5 202.4,982.1C199.6,981.7 194.3,979.8 192.9,978.1C191.5,976.4 190.7,970.9 191.3,968.7Z" fill="none" stroke="#e2ebfa" stroke-width="2.6" opacity="0.95"/>
<path d="M191.3,968.7C191.9,966.5 195.4,962.2 197.6,960.8C199.8,959.4 205.9,957.8 208.7,957.6C211.5,957.4 217.8,958.0 219.7,959.2C221.6,960.4 223.2,964.9 223.6,967.1C224.0,969.3 224.0,974.7 222.9,976.5C221.8,978.3 217.6,980.6 215.0,981.3C212.4,982.0 205.2,982.5 202.4,982.1C199.6,981.7 194.3,979.8 192.9,978.1C191.5,976.4 190.7,970.9 191.3,968.7Z" fill="url(#gL)"/>
<ellipse cx="209" cy="967" rx="9" ry="6.2" fill="#1c2c92" opacity="1" transform="rotate(0 209 967)"/>
<ellipse cx="210" cy="976" rx="9" ry="5" fill="#1c2c92" opacity="1" transform="rotate(0 210 976)"/>
<path d="M203.1,992.3C204.0,990.3 207.9,986.8 210.2,986.0C212.5,985.2 219.1,985.0 221.3,986.0C223.5,987.0 226.9,991.5 227.6,993.9C228.3,996.3 227.8,1002.9 226.8,1004.9C225.8,1006.9 222.0,1009.1 219.7,1009.7C217.4,1010.3 210.8,1010.7 208.7,1009.7C206.6,1008.7 203.8,1004.0 203.1,1001.8C202.4,999.6 202.2,994.3 203.1,992.3Z" fill="none" stroke="#e2ebfa" stroke-width="2.6" opacity="0.95"/>
<path d="M203.1,992.3C204.0,990.3 207.9,986.8 210.2,986.0C212.5,985.2 219.1,985.0 221.3,986.0C223.5,987.0 226.9,991.5 227.6,993.9C228.3,996.3 227.8,1002.9 226.8,1004.9C225.8,1006.9 222.0,1009.1 219.7,1009.7C217.4,1010.3 210.8,1010.7 208.7,1009.7C206.6,1008.7 203.8,1004.0 203.1,1001.8C202.4,999.6 202.2,994.3 203.1,992.3Z" fill="url(#gF)"/>
<circle cx="209.4" cy="997.4" r="1.6" fill="#eef4fc" opacity="0.85"/>
<circle cx="222.2" cy="999.2" r="1.7" fill="#eef4fc" opacity="0.85"/>
<circle cx="221.0" cy="1001.7" r="1.7" fill="#eef4fc" opacity="0.85"/>
<circle cx="209.9" cy="996.4" r="0.9" fill="#eef4fc" opacity="0.85"/>
<circle cx="210.6" cy="1001.6" r="1.3" fill="#eef4fc" opacity="0.85"/>
<circle cx="214.1" cy="1000.7" r="1.0" fill="#eef4fc" opacity="0.85"/>
<circle cx="213.4" cy="1006.6" r="1.6" fill="#eef4fc" opacity="0.85"/>
<circle cx="219.3" cy="1005.5" r="0.9" fill="#eef4fc" opacity="0.85"/>
<circle cx="212.6" cy="999.6" r="0.8" fill="#eef4fc" opacity="0.85"/>
<circle cx="217.8" cy="999.0" r="1.0" fill="#eef4fc" opacity="0.85"/>
<circle cx="223.4" cy="1000.4" r="1.1" fill="#eef4fc" opacity="0.85"/>
<circle cx="221.4" cy="999.9" r="1.5" fill="#eef4fc" opacity="0.85"/>
<circle cx="217.4" cy="1006.6" r="1.5" fill="#eef4fc" opacity="0.85"/>
<circle cx="223.3" cy="999.8" r="1.1" fill="#eef4fc" opacity="0.85"/>
<ellipse cx="217" cy="991" rx="8.5" ry="5" fill="#1c2c92" opacity="1" transform="rotate(0 217 991)"/>
<path d="M237.0,959.2C237.8,956.8 242.7,952.6 244.9,951.3C247.1,950.0 252.2,948.5 254.4,948.9C256.6,949.3 261.1,952.4 262.3,954.5C263.5,956.6 264.3,963.1 263.9,965.5C263.5,967.9 261.1,972.2 259.1,973.4C257.1,974.6 250.7,975.4 248.1,975.0C245.5,974.6 240.0,972.2 238.6,970.2C237.2,968.2 236.2,961.6 237.0,959.2Z" fill="none" stroke="#e2ebfa" stroke-width="2.6" opacity="0.95"/>
<path d="M237.0,959.2C237.8,956.8 242.7,952.6 244.9,951.3C247.1,950.0 252.2,948.5 254.4,948.9C256.6,949.3 261.1,952.4 262.3,954.5C263.5,956.6 264.3,963.1 263.9,965.5C263.5,967.9 261.1,972.2 259.1,973.4C257.1,974.6 250.7,975.4 248.1,975.0C245.5,974.6 240.0,972.2 238.6,970.2C237.2,968.2 236.2,961.6 237.0,959.2Z" fill="url(#gC)"/>
<path d="M263.0,954.5C264.1,951.9 268.8,950.9 271.3,950.5C273.8,950.1 280.2,950.2 282.4,951.3C284.6,952.4 288.0,956.6 288.7,959.2C289.4,961.8 288.9,969.6 287.9,971.8C286.9,974.0 283.1,975.9 280.8,976.5C278.5,977.1 272.0,977.2 269.7,976.5C267.4,975.8 263.8,973.8 263.0,971.0C262.2,968.2 261.9,957.1 263.0,954.5Z" fill="none" stroke="#e2ebfa" stroke-width="2.6" opacity="0.95"/>
<path d="M263.0,954.5C264.1,951.9 268.8,950.9 271.3,950.5C273.8,950.1 280.2,950.2 282.4,951.3C284.6,952.4 288.0,956.6 288.7,959.2C289.4,961.8 288.9,969.6 287.9,971.8C286.9,974.0 283.1,975.9 280.8,976.5C278.5,977.1 272.0,977.2 269.7,976.5C267.4,975.8 263.8,973.8 263.0,971.0C262.2,968.2 261.9,957.1 263.0,954.5Z" fill="#3558bd"/>
<path d="M243.4,979.7C244.3,977.6 248.8,975.0 251.2,974.2C253.6,973.4 260.3,972.7 262.3,973.4C264.3,974.1 266.4,976.7 267.0,979.7C267.6,982.7 267.8,994.5 267.0,997.1C266.2,999.7 263.1,1000.0 260.7,1000.2C258.3,1000.4 250.2,999.8 248.1,998.6C246.0,997.4 244.7,993.1 244.1,990.7C243.5,988.3 242.5,981.8 243.4,979.7Z" fill="none" stroke="#e2ebfa" stroke-width="2.6" opacity="0.95"/>
<path d="M243.4,979.7C244.3,977.6 248.8,975.0 251.2,974.2C253.6,973.4 260.3,972.7 262.3,973.4C264.3,974.1 266.4,976.7 267.0,979.7C267.6,982.7 267.8,994.5 267.0,997.1C266.2,999.7 263.1,1000.0 260.7,1000.2C258.3,1000.4 250.2,999.8 248.1,998.6C246.0,997.4 244.7,993.1 244.1,990.7C243.5,988.3 242.5,981.8 243.4,979.7Z" fill="url(#gC)"/>
<path d="M289.4,968.7C289.6,966.1 291.7,961.9 293.4,960.8C295.1,959.7 300.9,959.4 302.9,960.0C304.9,960.6 308.3,963.4 309.2,965.5C310.1,967.6 310.4,973.9 310.0,976.5C309.6,979.1 307.5,984.6 306.0,986.0C304.5,987.4 299.9,988.2 298.1,987.6C296.3,987.0 292.9,983.7 291.8,981.3C290.7,978.9 289.2,971.3 289.4,968.7Z" fill="none" stroke="#e2ebfa" stroke-width="2.6" opacity="0.95"/>
<path d="M289.4,968.7C289.6,966.1 291.7,961.9 293.4,960.8C295.1,959.7 300.9,959.4 302.9,960.0C304.9,960.6 308.3,963.4 309.2,965.5C310.1,967.6 310.4,973.9 310.0,976.5C309.6,979.1 307.5,984.6 306.0,986.0C304.5,987.4 299.9,988.2 298.1,987.6C296.3,987.0 292.9,983.7 291.8,981.3C290.7,978.9 289.2,971.3 289.4,968.7Z" fill="#2541b0"/>
<path d="M307.6,960.8C308.3,958.1 312.9,954.8 315.5,953.7C318.1,952.6 325.3,951.6 328.1,952.1C330.9,952.6 335.8,955.3 337.6,957.6C339.4,959.9 342.1,967.2 342.3,970.2C342.5,973.2 340.9,979.5 339.1,981.3C337.3,983.1 331.1,984.2 328.1,984.4C325.1,984.6 317.8,984.1 315.5,982.9C313.2,981.7 311.0,977.8 310.0,975.0C309.0,972.2 306.9,963.5 307.6,960.8Z" fill="none" stroke="#e2ebfa" stroke-width="2.6" opacity="0.95"/>
<path d="M307.6,960.8C308.3,958.1 312.9,954.8 315.5,953.7C318.1,952.6 325.3,951.6 328.1,952.1C330.9,952.6 335.8,955.3 337.6,957.6C339.4,959.9 342.1,967.2 342.3,970.2C342.5,973.2 340.9,979.5 339.1,981.3C337.3,983.1 331.1,984.2 328.1,984.4C325.1,984.6 317.8,984.1 315.5,982.9C313.2,981.7 311.0,977.8 310.0,975.0C309.0,972.2 306.9,963.5 307.6,960.8Z" fill="url(#gF)"/>
<circle cx="323.9" cy="974.8" r="1.5" fill="#eef4fc" opacity="0.85"/>
<circle cx="333.9" cy="974.6" r="1.2" fill="#eef4fc" opacity="0.85"/>
<circle cx="334.0" cy="974.0" r="0.8" fill="#eef4fc" opacity="0.85"/>
<circle cx="323.1" cy="972.9" r="0.9" fill="#eef4fc" opacity="0.85"/>
<circle cx="316.3" cy="975.3" r="0.9" fill="#eef4fc" opacity="0.85"/>
<circle cx="327.6" cy="978.2" r="1.7" fill="#eef4fc" opacity="0.85"/>
<circle cx="319.3" cy="969.7" r="1.8" fill="#eef4fc" opacity="0.85"/>
<circle cx="336.6" cy="974.1" r="1.1" fill="#eef4fc" opacity="0.85"/>
<circle cx="328.5" cy="974.2" r="1.1" fill="#eef4fc" opacity="0.85"/>
<circle cx="328.1" cy="968.9" r="1.4" fill="#eef4fc" opacity="0.85"/>
<circle cx="321.3" cy="968.3" r="1.3" fill="#eef4fc" opacity="0.85"/>
<circle cx="328.7" cy="972.8" r="1.0" fill="#eef4fc" opacity="0.85"/>
<circle cx="322.7" cy="967.3" r="1.1" fill="#eef4fc" opacity="0.85"/>
<circle cx="319.1" cy="969.2" r="1.1" fill="#eef4fc" opacity="0.85"/>
<circle cx="328.8" cy="965.6" r="1.0" fill="#eef4fc" opacity="0.85"/>
<circle cx="318.2" cy="969.4" r="1.7" fill="#eef4fc" opacity="0.85"/>
<circle cx="325.2" cy="967.7" r="1.8" fill="#eef4fc" opacity="0.85"/>
<circle cx="331.7" cy="975.5" r="1.6" fill="#eef4fc" opacity="0.85"/>
<ellipse cx="325" cy="961" rx="6.3" ry="6.3" fill="#1c2c92" opacity="1" transform="rotate(0 325 961)"/>
<ellipse cx="314" cy="966.3" rx="4" ry="4" fill="#1c2c92" opacity="1" transform="rotate(0 314 966.3)"/>
<path d="M266.6,982.9C267.4,980.7 271.9,977.4 274.5,976.5C277.1,975.6 284.5,975.0 287.1,975.8C289.7,976.6 294.0,980.8 295.0,982.9C296.0,985.0 295.8,990.5 295.0,992.3C294.2,994.1 290.9,996.4 288.7,997.1C286.5,997.8 280.2,998.3 277.6,997.9C275.0,997.5 269.6,995.8 268.2,993.9C266.8,992.0 265.8,985.1 266.6,982.9Z" fill="none" stroke="#e2ebfa" stroke-width="2.6" opacity="0.95"/>
<path d="M266.6,982.9C267.4,980.7 271.9,977.4 274.5,976.5C277.1,975.6 284.5,975.0 287.1,975.8C289.7,976.6 294.0,980.8 295.0,982.9C296.0,985.0 295.8,990.5 295.0,992.3C294.2,994.1 290.9,996.4 288.7,997.1C286.5,997.8 280.2,998.3 277.6,997.9C275.0,997.5 269.6,995.8 268.2,993.9C266.8,992.0 265.8,985.1 266.6,982.9Z" fill="url(#gF)"/>
<ellipse cx="272" cy="987" rx="2.6" ry="2.6" fill="#1c2c92" opacity="1" transform="rotate(0 272 987)"/>
<ellipse cx="278" cy="985" rx="2.6" ry="2.6" fill="#1c2c92" opacity="1" transform="rotate(0 278 985)"/>
<ellipse cx="284" cy="984" rx="2.6" ry="2.6" fill="#1c2c92" opacity="1" transform="rotate(0 284 984)"/>
<ellipse cx="275" cy="993" rx="2.6" ry="2.6" fill="#1c2c92" opacity="1" transform="rotate(0 275 993)"/>
<ellipse cx="281" cy="991" rx="2.6" ry="2.6" fill="#1c2c92" opacity="1" transform="rotate(0 281 991)"/>
<ellipse cx="287" cy="989" rx="2.6" ry="2.6" fill="#1c2c92" opacity="1" transform="rotate(0 287 989)"/>
<path d="M259.0,1001.8C260.4,999.4 268.1,999.0 271.3,998.6C274.5,998.2 281.5,997.8 283.9,998.6C286.3,999.4 289.6,1002.7 290.2,1004.9C290.8,1007.1 289.9,1013.8 288.7,1016.0C287.5,1018.2 283.2,1021.5 280.8,1022.3C278.4,1023.1 272.3,1022.9 269.7,1022.3C267.1,1021.7 261.4,1020.2 260.0,1017.6C258.6,1015.0 257.6,1004.2 259.0,1001.8Z" fill="none" stroke="#e2ebfa" stroke-width="2.6" opacity="0.95"/>
<path d="M259.0,1001.8C260.4,999.4 268.1,999.0 271.3,998.6C274.5,998.2 281.5,997.8 283.9,998.6C286.3,999.4 289.6,1002.7 290.2,1004.9C290.8,1007.1 289.9,1013.8 288.7,1016.0C287.5,1018.2 283.2,1021.5 280.8,1022.3C278.4,1023.1 272.3,1022.9 269.7,1022.3C267.1,1021.7 261.4,1020.2 260.0,1017.6C258.6,1015.0 257.6,1004.2 259.0,1001.8Z" fill="url(#gC)"/>
</g></g>
<rect x="188.5" y="869.5" width="156.2" height="155.8" fill="none" stroke="#3a3a3a" stroke-width="1.4"/>
<g clip-path="url(#c3)"><g filter="url(#soft)">
<rect x="348" y="868" width="160" height="160" fill="#f8f8fb"/>
<path d="M355.3,900.7C355.5,898.0 359.1,893.6 360.8,892.0C362.5,890.4 366.5,888.2 368.7,888.1C370.9,888.0 376.1,889.0 378.1,891.2C380.1,893.4 384.0,902.6 384.4,905.4C384.8,908.2 383.1,911.9 381.3,913.3C379.5,914.7 373.0,916.5 370.2,916.5C367.4,916.5 361.1,915.3 359.2,913.3C357.3,911.3 355.1,903.4 355.3,900.7Z" fill="none" stroke="#e2ebfa" stroke-width="2.6" opacity="0.95"/>
<path d="M355.3,900.7C355.5,898.0 359.1,893.6 360.8,892.0C362.5,890.4 366.5,888.2 368.7,888.1C370.9,888.0 376.1,889.0 378.1,891.2C380.1,893.4 384.0,902.6 384.4,905.4C384.8,908.2 383.1,911.9 381.3,913.3C379.5,914.7 373.0,916.5 370.2,916.5C367.4,916.5 361.1,915.3 359.2,913.3C357.3,911.3 355.1,903.4 355.3,900.7Z" fill="url(#gC)"/>
<path d="M347.0,918.0C347.9,916.2 353.3,918.6 354.5,919.6C355.7,920.6 356.9,924.3 356.8,925.9C356.7,927.5 354.9,931.2 353.7,932.2C352.5,933.2 347.8,935.6 347.0,933.8C346.2,932.0 346.1,919.8 347.0,918.0Z" fill="none" stroke="#e2ebfa" stroke-width="2.6" opacity="0.95"/>
<path d="M347.0,918.0C347.9,916.2 353.3,918.6 354.5,919.6C355.7,920.6 356.9,924.3 356.8,925.9C356.7,927.5 354.9,931.2 353.7,932.2C352.5,933.2 347.8,935.6 347.0,933.8C346.2,932.0 346.1,919.8 347.0,918.0Z" fill="url(#gC)"/>
<path d="M396.3,884.9C396.8,882.9 399.7,879.7 401.8,878.6C403.9,877.5 410.4,876.1 412.8,876.3C415.2,876.5 419.5,878.5 420.7,880.2C421.9,881.9 422.7,887.7 422.3,889.7C421.9,891.7 419.8,894.8 417.6,896.0C415.4,897.2 407.4,899.3 404.9,899.1C402.4,898.9 398.9,896.2 397.8,894.4C396.7,892.6 395.8,886.9 396.3,884.9Z" fill="none" stroke="#e2ebfa" stroke-width="2.6" opacity="0.95"/>
<path d="M396.3,884.9C396.8,882.9 399.7,879.7 401.8,878.6C403.9,877.5 410.4,876.1 412.8,876.3C415.2,876.5 419.5,878.5 420.7,880.2C421.9,881.9 422.7,887.7 422.3,889.7C421.9,891.7 419.8,894.8 417.6,896.0C415.4,897.2 407.4,899.3 404.9,899.1C402.4,898.9 398.9,896.2 397.8,894.4C396.7,892.6 395.8,886.9 396.3,884.9Z" fill="#2443b2"/>
<path d="M431.3,881.8C432.1,879.9 435.4,875.5 437.6,874.7C439.8,873.9 446.3,874.8 448.7,875.5C451.1,876.2 454.9,878.0 456.5,880.2C458.1,882.4 461.1,890.3 461.3,892.8C461.5,895.3 459.9,898.7 458.1,899.9C456.3,901.1 449.9,902.6 447.1,902.3C444.3,902.0 438.0,899.1 436.0,897.5C434.0,895.9 431.9,891.7 431.3,889.7C430.7,887.7 430.5,883.7 431.3,881.8Z" fill="none" stroke="#e2ebfa" stroke-width="2.6" opacity="0.95"/>
<path d="M431.3,881.8C432.1,879.9 435.4,875.5 437.6,874.7C439.8,873.9 446.3,874.8 448.7,875.5C451.1,876.2 454.9,878.0 456.5,880.2C458.1,882.4 461.1,890.3 461.3,892.8C461.5,895.3 459.9,898.7 458.1,899.9C456.3,901.1 449.9,902.6 447.1,902.3C444.3,902.0 438.0,899.1 436.0,897.5C434.0,895.9 431.9,891.7 431.3,889.7C430.7,887.7 430.5,883.7 431.3,881.8Z" fill="url(#gC)"/>
<ellipse cx="439" cy="882" rx="8" ry="7" fill="#7aa0da" opacity="0.9" transform="rotate(0 439 882)"/>
<path d="M406.5,910.0C406.9,907.4 410.8,901.0 412.8,899.1C414.8,897.2 419.9,895.4 422.3,895.0C424.7,894.6 429.8,895.1 432.0,896.0C434.2,896.9 438.4,900.0 440.0,902.0C441.6,904.0 444.4,909.5 444.7,912.0C445.0,914.5 443.6,920.0 442.0,922.0C440.4,924.0 434.8,926.9 432.0,927.5C429.2,928.1 422.8,928.0 420.0,927.0C417.2,926.0 411.7,922.2 410.0,920.0C408.3,917.8 406.1,912.6 406.5,910.0Z" fill="none" stroke="#e2ebfa" stroke-width="2.6" opacity="0.95"/>
<path d="M406.5,910.0C406.9,907.4 410.8,901.0 412.8,899.1C414.8,897.2 419.9,895.4 422.3,895.0C424.7,894.6 429.8,895.1 432.0,896.0C434.2,896.9 438.4,900.0 440.0,902.0C441.6,904.0 444.4,909.5 444.7,912.0C445.0,914.5 443.6,920.0 442.0,922.0C440.4,924.0 434.8,926.9 432.0,927.5C429.2,928.1 422.8,928.0 420.0,927.0C417.2,926.0 411.7,922.2 410.0,920.0C408.3,917.8 406.1,912.6 406.5,910.0Z" fill="url(#gF)"/>
<circle cx="421.5" cy="915.4" r="0.9" fill="#eef4fc" opacity="0.85"/>
<circle cx="428.6" cy="913.4" r="1.3" fill="#eef4fc" opacity="0.85"/>
<circle cx="430.5" cy="912.3" r="1.4" fill="#eef4fc" opacity="0.85"/>
<circle cx="426.3" cy="912.6" r="1.2" fill="#eef4fc" opacity="0.85"/>
<circle cx="425.9" cy="907.6" r="1.5" fill="#eef4fc" opacity="0.85"/>
<circle cx="431.0" cy="918.1" r="0.9" fill="#eef4fc" opacity="0.85"/>
<circle cx="417.4" cy="913.6" r="1.4" fill="#eef4fc" opacity="0.85"/>
<circle cx="429.0" cy="907.9" r="1.5" fill="#eef4fc" opacity="0.85"/>
<circle cx="432.8" cy="917.2" r="1.5" fill="#eef4fc" opacity="0.85"/>
<circle cx="426.9" cy="907.6" r="0.9" fill="#eef4fc" opacity="0.85"/>
<circle cx="427.5" cy="918.6" r="1.1" fill="#eef4fc" opacity="0.85"/>
<circle cx="429.8" cy="909.8" r="1.7" fill="#eef4fc" opacity="0.85"/>
<circle cx="429.9" cy="912.4" r="1.2" fill="#eef4fc" opacity="0.85"/>
<circle cx="426.3" cy="914.1" r="1.2" fill="#eef4fc" opacity="0.85"/>
<circle cx="431.1" cy="912.1" r="1.4" fill="#eef4fc" opacity="0.85"/>
<circle cx="434.1" cy="919.3" r="1.7" fill="#eef4fc" opacity="0.85"/>
<circle cx="428.3" cy="914.9" r="0.9" fill="#eef4fc" opacity="0.85"/>
<circle cx="426.6" cy="913.7" r="0.9" fill="#eef4fc" opacity="0.85"/>
<ellipse cx="420" cy="907" rx="8" ry="9" fill="#1c2c92" opacity="1" transform="rotate(0 420 907)"/>
<path d="M436.0,940.1C436.7,938.1 439.0,933.6 440.8,932.2C442.6,930.8 447.8,928.9 450.2,929.1C452.6,929.3 458.1,932.2 459.7,933.8C461.3,935.4 462.7,939.5 462.9,941.7C463.1,943.9 462.9,949.5 461.3,951.3C459.7,953.1 452.8,955.6 450.2,956.0C447.6,956.4 442.7,955.5 440.8,954.5C438.9,953.5 435.6,949.8 435.0,948.0C434.4,946.2 435.3,942.1 436.0,940.1Z" fill="none" stroke="#e2ebfa" stroke-width="2.6" opacity="0.95"/>
<path d="M436.0,940.1C436.7,938.1 439.0,933.6 440.8,932.2C442.6,930.8 447.8,928.9 450.2,929.1C452.6,929.3 458.1,932.2 459.7,933.8C461.3,935.4 462.7,939.5 462.9,941.7C463.1,943.9 462.9,949.5 461.3,951.3C459.7,953.1 452.8,955.6 450.2,956.0C447.6,956.4 442.7,955.5 440.8,954.5C438.9,953.5 435.6,949.8 435.0,948.0C434.4,946.2 435.3,942.1 436.0,940.1Z" fill="url(#gF)"/>
<circle cx="439.3" cy="939.3" r="2.1" fill="#eef4fc" opacity="0.85"/>
<circle cx="439.4" cy="938.9" r="1.6" fill="#eef4fc" opacity="0.85"/>
<circle cx="447.3" cy="941.9" r="1.7" fill="#eef4fc" opacity="0.85"/>
<circle cx="445.7" cy="936.2" r="1.2" fill="#eef4fc" opacity="0.85"/>
<circle cx="451.1" cy="940.9" r="1.8" fill="#eef4fc" opacity="0.85"/>
<circle cx="452.7" cy="939.5" r="2.2" fill="#eef4fc" opacity="0.85"/>
<circle cx="441.4" cy="934.1" r="1.0" fill="#eef4fc" opacity="0.85"/>
<circle cx="450.8" cy="938.4" r="0.9" fill="#eef4fc" opacity="0.85"/>
<circle cx="446.4" cy="940.7" r="0.8" fill="#eef4fc" opacity="0.85"/>
<circle cx="439.8" cy="938.9" r="2.0" fill="#eef4fc" opacity="0.85"/>
<ellipse cx="451" cy="947" rx="9" ry="8" fill="#1c2c92" opacity="1" transform="rotate(0 451 947)"/>
<path d="M464.4,957.6C464.6,954.4 465.0,947.4 466.0,945.0C467.0,942.6 470.1,939.8 472.3,938.6C474.5,937.4 480.6,935.4 483.4,935.4C486.2,935.4 492.2,937.0 494.4,938.6C496.6,940.2 500.0,945.6 501.0,948.0C502.0,950.4 502.5,954.0 502.3,957.6C502.1,961.2 500.3,972.5 499.1,976.5C497.9,980.5 495.2,987.8 492.8,989.2C490.4,990.6 483.2,988.6 480.2,987.6C477.2,986.6 471.2,983.5 469.2,981.3C467.2,979.1 465.0,973.2 464.4,970.2C463.8,967.2 464.2,960.8 464.4,957.6Z" fill="none" stroke="#e2ebfa" stroke-width="2.6" opacity="0.95"/>
<path d="M464.4,957.6C464.6,954.4 465.0,947.4 466.0,945.0C467.0,942.6 470.1,939.8 472.3,938.6C474.5,937.4 480.6,935.4 483.4,935.4C486.2,935.4 492.2,937.0 494.4,938.6C496.6,940.2 500.0,945.6 501.0,948.0C502.0,950.4 502.5,954.0 502.3,957.6C502.1,961.2 500.3,972.5 499.1,976.5C497.9,980.5 495.2,987.8 492.8,989.2C490.4,990.6 483.2,988.6 480.2,987.6C477.2,986.6 471.2,983.5 469.2,981.3C467.2,979.1 465.0,973.2 464.4,970.2C463.8,967.2 464.2,960.8 464.4,957.6Z" fill="url(#gC)"/>
<ellipse cx="490" cy="975" rx="8" ry="9" fill="url(#gL)" opacity="0.6" transform="rotate(0 490 975)"/>
<path d="M408.1,948.0C408.5,945.7 411.0,939.8 412.8,938.0C414.6,936.2 420.0,934.1 422.3,933.8C424.6,933.5 429.8,934.6 431.0,936.0C432.2,937.4 432.1,942.6 432.0,945.0C431.9,947.4 431.0,953.0 430.0,955.0C429.0,957.0 425.6,959.8 424.0,960.5C422.4,961.2 418.8,961.4 417.0,960.8C415.2,960.2 411.1,957.6 410.0,956.0C408.9,954.4 407.7,950.3 408.1,948.0Z" fill="none" stroke="#e2ebfa" stroke-width="2.6" opacity="0.95"/>
<path d="M408.1,948.0C408.5,945.7 411.0,939.8 412.8,938.0C414.6,936.2 420.0,934.1 422.3,933.8C424.6,933.5 429.8,934.6 431.0,936.0C432.2,937.4 432.1,942.6 432.0,945.0C431.9,947.4 431.0,953.0 430.0,955.0C429.0,957.0 425.6,959.8 424.0,960.5C422.4,961.2 418.8,961.4 417.0,960.8C415.2,960.2 411.1,957.6 410.0,956.0C408.9,954.4 407.7,950.3 408.1,948.0Z" fill="#2443b2"/>
<path d="M443.1,973.4C443.3,972.0 445.6,968.0 447.1,967.1C448.6,966.2 453.3,965.7 455.0,966.3C456.7,966.9 459.9,970.1 460.5,971.8C461.1,973.5 460.6,978.5 459.7,979.7C458.8,980.9 455.2,981.5 453.4,981.3C451.6,981.1 446.8,979.1 445.5,978.1C444.2,977.1 442.9,974.8 443.1,973.4Z" fill="none" stroke="#e2ebfa" stroke-width="2.6" opacity="0.95"/>
<path d="M443.1,973.4C443.3,972.0 445.6,968.0 447.1,967.1C448.6,966.2 453.3,965.7 455.0,966.3C456.7,966.9 459.9,970.1 460.5,971.8C461.1,973.5 460.6,978.5 459.7,979.7C458.8,980.9 455.2,981.5 453.4,981.3C451.6,981.1 446.8,979.1 445.5,978.1C444.2,977.1 442.9,974.8 443.1,973.4Z" fill="#1c2c92"/>
<path d="M434.5,987.6C435.2,985.8 438.8,983.4 440.8,982.9C442.8,982.4 448.2,982.6 450.2,983.6C452.2,984.6 455.7,988.8 456.5,990.7C457.3,992.6 457.3,997.0 456.5,998.6C455.7,1000.2 452.2,1002.8 450.2,1003.4C448.2,1004.0 442.7,1004.2 440.8,1003.4C438.9,1002.6 436.1,999.1 435.3,997.1C434.5,995.1 433.8,989.4 434.5,987.6Z" fill="none" stroke="#e2ebfa" stroke-width="2.6" opacity="0.95"/>
<path d="M434.5,987.6C435.2,985.8 438.8,983.4 440.8,982.9C442.8,982.4 448.2,982.6 450.2,983.6C452.2,984.6 455.7,988.8 456.5,990.7C457.3,992.6 457.3,997.0 456.5,998.6C455.7,1000.2 452.2,1002.8 450.2,1003.4C448.2,1004.0 442.7,1004.2 440.8,1003.4C438.9,1002.6 436.1,999.1 435.3,997.1C434.5,995.1 433.8,989.4 434.5,987.6Z" fill="url(#gC)"/>
<path d="M390.0,997.1C390.2,993.9 393.4,989.2 395.5,987.6C397.6,986.0 403.7,984.4 406.5,984.4C409.3,984.4 415.5,986.2 417.6,987.6C419.7,989.0 422.5,992.9 423.1,995.5C423.7,998.1 423.4,1005.5 422.3,1008.1C421.2,1010.7 416.8,1014.8 414.4,1016.0C412.0,1017.2 406.0,1018.0 403.4,1017.6C400.8,1017.2 395.6,1015.4 393.9,1012.8C392.2,1010.2 389.8,1000.3 390.0,997.1Z" fill="none" stroke="#e2ebfa" stroke-width="2.6" opacity="0.95"/>
<path d="M390.0,997.1C390.2,993.9 393.4,989.2 395.5,987.6C397.6,986.0 403.7,984.4 406.5,984.4C409.3,984.4 415.5,986.2 417.6,987.6C419.7,989.0 422.5,992.9 423.1,995.5C423.7,998.1 423.4,1005.5 422.3,1008.1C421.2,1010.7 416.8,1014.8 414.4,1016.0C412.0,1017.2 406.0,1018.0 403.4,1017.6C400.8,1017.2 395.6,1015.4 393.9,1012.8C392.2,1010.2 389.8,1000.3 390.0,997.1Z" fill="url(#gF)"/>
<circle cx="401.5" cy="1004.3" r="1.5" fill="#eef4fc" opacity="0.85"/>
<circle cx="404.5" cy="992.5" r="1.0" fill="#eef4fc" opacity="0.85"/>
<circle cx="404.9" cy="999.8" r="1.5" fill="#eef4fc" opacity="0.85"/>
<circle cx="407.0" cy="1001.3" r="1.0" fill="#eef4fc" opacity="0.85"/>
<circle cx="400.2" cy="1002.3" r="1.6" fill="#eef4fc" opacity="0.85"/>
<circle cx="401.1" cy="995.2" r="1.1" fill="#eef4fc" opacity="0.85"/>
<circle cx="407.6" cy="1003.4" r="1.6" fill="#eef4fc" opacity="0.85"/>
<circle cx="405.1" cy="987.5" r="1.5" fill="#eef4fc" opacity="0.85"/>
<circle cx="410.5" cy="993.2" r="1.1" fill="#eef4fc" opacity="0.85"/>
<circle cx="406.1" cy="990.4" r="1.6" fill="#eef4fc" opacity="0.85"/>
<circle cx="396.0" cy="993.4" r="1.2" fill="#eef4fc" opacity="0.85"/>
<circle cx="396.9" cy="998.4" r="0.9" fill="#eef4fc" opacity="0.85"/>
<circle cx="405.8" cy="987.9" r="1.8" fill="#eef4fc" opacity="0.85"/>
<circle cx="399.3" cy="989.1" r="1.5" fill="#eef4fc" opacity="0.85"/>
<circle cx="407.4" cy="1002.2" r="1.2" fill="#eef4fc" opacity="0.85"/>
<circle cx="404.0" cy="1000.0" r="1.3" fill="#eef4fc" opacity="0.85"/>
<circle cx="401.9" cy="1002.8" r="1.4" fill="#eef4fc" opacity="0.85"/>
<circle cx="399.1" cy="998.2" r="1.3" fill="#eef4fc" opacity="0.85"/>
<circle cx="402.4" cy="1000.8" r="1.0" fill="#eef4fc" opacity="0.85"/>
<circle cx="400.2" cy="998.0" r="1.5" fill="#eef4fc" opacity="0.85"/>
<path d="M402.0,1000.0C403.5,998.4 409.6,995.4 412.0,995.0C414.4,994.6 419.7,995.4 421.0,997.0C422.3,998.6 422.9,1005.7 422.0,1008.0C421.1,1010.3 416.3,1014.5 414.0,1015.5C411.7,1016.5 405.8,1017.0 404.0,1016.0C402.2,1015.0 400.3,1010.0 400.0,1008.0C399.7,1006.0 400.5,1001.6 402.0,1000.0Z" fill="#1c2c92"/>
</g></g>
<rect x="349" y="869.5" width="156" height="155.6" fill="none" stroke="#3a3a3a" stroke-width="1.4"/>
<rect x="149.5" y="1006" width="34.29999999999998" height="17" fill="#ffffff" opacity="0"/>
<text x="152.5" y="1016" font-size="10" text-anchor="start" fill="#111" font-weight="normal" font-style="normal" textLength="28.400000000000006" lengthAdjust="spacingAndGlyphs" stroke="#111" stroke-width="0.22" >20 μm</text>
<path d="M150.3,1020.3H182.6M150.3,1017.8v5M182.6,1017.8v5" stroke="#111" stroke-width="1.4" fill="none"/>
<rect x="308.5" y="1006" width="34.30000000000001" height="17" fill="#ffffff" opacity="0"/>
<text x="311.5" y="1016" font-size="10" text-anchor="start" fill="#111" font-weight="normal" font-style="normal" textLength="28.399999999999977" lengthAdjust="spacingAndGlyphs" stroke="#111" stroke-width="0.22" >20 μm</text>
<path d="M309.2,1020.5H341.5M309.2,1018.0v5M341.5,1018.0v5" stroke="#111" stroke-width="1.4" fill="none"/>
<rect x="468.5" y="1006" width="34.30000000000001" height="17" fill="#ffffff" opacity="0"/>
<text x="471.5" y="1016" font-size="10" text-anchor="start" fill="#111" font-weight="normal" font-style="normal" textLength="28.399999999999977" lengthAdjust="spacingAndGlyphs" stroke="#111" stroke-width="0.22" >20 μm</text>
<path d="M469.2,1020.5H501.5M469.2,1018.0v5M501.5,1018.0v5" stroke="#111" stroke-width="1.4" fill="none"/>
</svg></body></html>
